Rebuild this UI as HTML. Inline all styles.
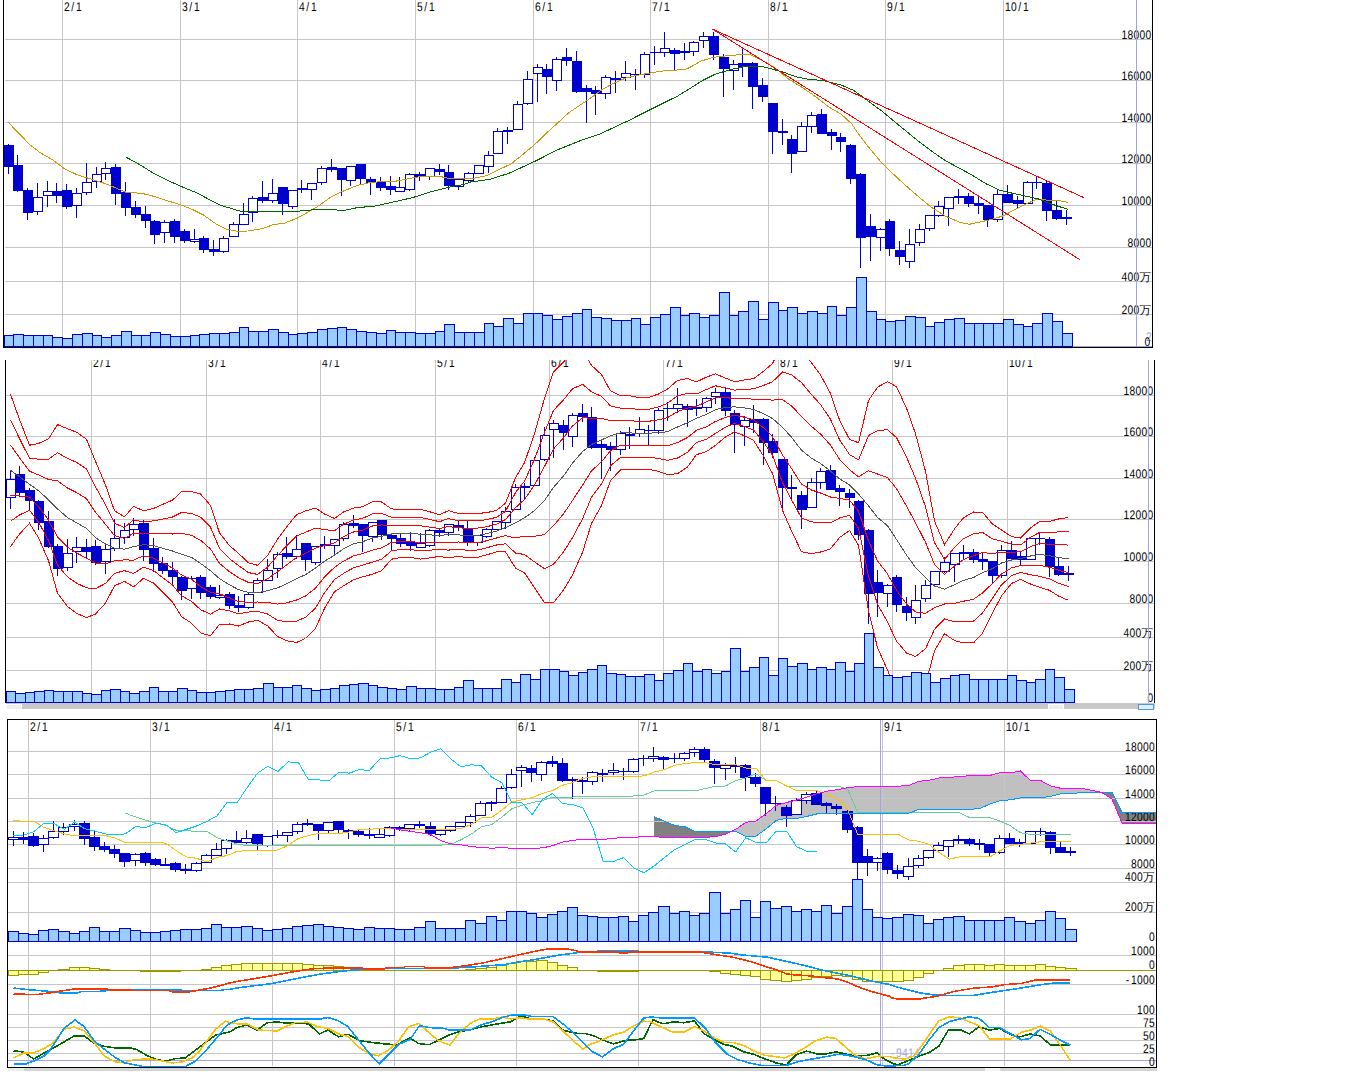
<!DOCTYPE html>
<html><head><meta charset="utf-8"><style>html,body{margin:0;padding:0;background:#fff}svg{display:block}</style></head><body><svg width="1366" height="1090" viewBox="0 0 1366 1090" shape-rendering="crispEdges" font-family="'Liberation Sans', sans-serif" fill="#000" text-rendering="geometricPrecision">
<defs><clipPath id="clipR1"><rect x="0" y="0" width="1152" height="348"/></clipPath><clipPath id="clip2"><rect x="0" y="360" width="1156" height="350"/></clipPath><clipPath id="clip3"><rect x="8" y="720" width="1148" height="346"/></clipPath><clipPath id="clip3b"><rect x="8" y="720" width="1148" height="348"/></clipPath><clipPath id="clip2b"><rect x="6" y="360" width="1148" height="343"/></clipPath></defs>
<rect x="0" y="0" width="1366" height="1090" fill="#fff"/>
<line x1="62.5" y1="0.0" x2="62.5" y2="346.0" stroke="#c6c6c6" stroke-width="1" />
<text transform="translate(64.0,11.0) scale(0.82,1)" x="0.00 8.90 14.63" y="0" font-size="12.5" >2/1</text>
<line x1="180.5" y1="0.0" x2="180.5" y2="346.0" stroke="#c6c6c6" stroke-width="1" />
<text transform="translate(182.0,11.0) scale(0.82,1)" x="0.00 8.90 14.63" y="0" font-size="12.5" >3/1</text>
<line x1="297.5" y1="0.0" x2="297.5" y2="346.0" stroke="#c6c6c6" stroke-width="1" />
<text transform="translate(299.0,11.0) scale(0.82,1)" x="0.00 8.90 14.63" y="0" font-size="12.5" >4/1</text>
<line x1="415.5" y1="0.0" x2="415.5" y2="346.0" stroke="#c6c6c6" stroke-width="1" />
<text transform="translate(417.0,11.0) scale(0.82,1)" x="0.00 8.90 14.63" y="0" font-size="12.5" >5/1</text>
<line x1="533.5" y1="0.0" x2="533.5" y2="346.0" stroke="#c6c6c6" stroke-width="1" />
<text transform="translate(535.0,11.0) scale(0.82,1)" x="0.00 8.90 14.63" y="0" font-size="12.5" >6/1</text>
<line x1="650.5" y1="0.0" x2="650.5" y2="346.0" stroke="#c6c6c6" stroke-width="1" />
<text transform="translate(652.0,11.0) scale(0.82,1)" x="0.00 8.90 14.63" y="0" font-size="12.5" >7/1</text>
<line x1="768.5" y1="0.0" x2="768.5" y2="346.0" stroke="#c6c6c6" stroke-width="1" />
<text transform="translate(770.0,11.0) scale(0.82,1)" x="0.00 8.90 14.63" y="0" font-size="12.5" >8/1</text>
<line x1="885.5" y1="0.0" x2="885.5" y2="346.0" stroke="#c6c6c6" stroke-width="1" />
<text transform="translate(887.0,11.0) scale(0.82,1)" x="0.00 8.90 14.63" y="0" font-size="12.5" >9/1</text>
<line x1="1003.5" y1="0.0" x2="1003.5" y2="346.0" stroke="#c6c6c6" stroke-width="1" />
<text transform="translate(1005.0,11.0) scale(0.82,1)" x="0.00 7.32 16.22 21.95" y="0" font-size="12.5" >10/1</text>
<line x1="5.0" y1="39.5" x2="1152.0" y2="39.5" stroke="#c6c6c6" stroke-width="1" />
<line x1="5.0" y1="80.5" x2="1152.0" y2="80.5" stroke="#c6c6c6" stroke-width="1" />
<line x1="5.0" y1="122.5" x2="1152.0" y2="122.5" stroke="#c6c6c6" stroke-width="1" />
<line x1="5.0" y1="163.5" x2="1152.0" y2="163.5" stroke="#c6c6c6" stroke-width="1" />
<line x1="5.0" y1="205.5" x2="1152.0" y2="205.5" stroke="#c6c6c6" stroke-width="1" />
<line x1="5.0" y1="247.5" x2="1152.0" y2="247.5" stroke="#c6c6c6" stroke-width="1" />
<line x1="5.0" y1="281.5" x2="1152.0" y2="281.5" stroke="#c6c6c6" stroke-width="1" />
<line x1="5.0" y1="314.5" x2="1152.0" y2="314.5" stroke="#c6c6c6" stroke-width="1" />
<g clip-path="url(#clipR1)">
<text transform="translate(1121.5,39.0) scale(0.82,1)" x="0.00 7.32 14.63 21.95 29.27" y="0" font-size="12.5" >18000</text>
<text transform="translate(1121.5,80.0) scale(0.82,1)" x="0.00 7.32 14.63 21.95 29.27" y="0" font-size="12.5" >16000</text>
<text transform="translate(1121.5,122.0) scale(0.82,1)" x="0.00 7.32 14.63 21.95 29.27" y="0" font-size="12.5" >14000</text>
<text transform="translate(1121.5,163.0) scale(0.82,1)" x="0.00 7.32 14.63 21.95 29.27" y="0" font-size="12.5" >12000</text>
<text transform="translate(1121.5,205.0) scale(0.82,1)" x="0.00 7.32 14.63 21.95 29.27" y="0" font-size="12.5" >10000</text>
<text transform="translate(1127.5,247.0) scale(0.82,1)" x="0.00 7.32 14.63 21.95" y="0" font-size="12.5" >8000</text>
<text transform="translate(1121.5,281.0) scale(0.82,1)" x="0.00 7.32 14.63" y="0" font-size="12.5" >400</text>
<text x="1139.5" y="281.0" font-size="11.5" >万</text>
<text transform="translate(1121.5,314.0) scale(0.82,1)" x="0.00 7.32 14.63" y="0" font-size="12.5" >200</text>
<text x="1139.5" y="314.0" font-size="11.5" >万</text>
<text transform="translate(1146.0,341.0) scale(0.82,1)" x="0.00" y="0" font-size="12.5" fill="#a3a3e3">2</text>
<text transform="translate(1144.5,345.5) scale(0.82,1)" x="0.00" y="0" font-size="12.5" >0</text>
</g>
<line x1="1136.5" y1="0.0" x2="1136.5" y2="346.0" stroke="#a3a3e3" stroke-width="1" />
<rect x="4.5" y="335.5" width="9.0" height="11.0" fill="#99ccff" stroke="#0000cc" />
<rect x="13.5" y="334.5" width="10.0" height="12.0" fill="#99ccff" stroke="#0000cc" />
<rect x="23.5" y="335.5" width="10.0" height="11.0" fill="#99ccff" stroke="#0000cc" />
<rect x="33.5" y="335.5" width="10.0" height="11.0" fill="#99ccff" stroke="#0000cc" />
<rect x="43.5" y="335.5" width="9.0" height="11.0" fill="#99ccff" stroke="#0000cc" />
<rect x="52.5" y="337.5" width="10.0" height="9.0" fill="#99ccff" stroke="#0000cc" />
<rect x="62.5" y="338.5" width="10.0" height="8.0" fill="#99ccff" stroke="#0000cc" />
<rect x="72.5" y="334.5" width="10.0" height="12.0" fill="#99ccff" stroke="#0000cc" />
<rect x="82.5" y="333.5" width="10.0" height="13.0" fill="#99ccff" stroke="#0000cc" />
<rect x="92.5" y="335.5" width="9.0" height="11.0" fill="#99ccff" stroke="#0000cc" />
<rect x="101.5" y="337.5" width="10.0" height="9.0" fill="#99ccff" stroke="#0000cc" />
<rect x="111.5" y="335.5" width="10.0" height="11.0" fill="#99ccff" stroke="#0000cc" />
<rect x="121.5" y="331.5" width="10.0" height="15.0" fill="#99ccff" stroke="#0000cc" />
<rect x="131.5" y="335.5" width="10.0" height="11.0" fill="#99ccff" stroke="#0000cc" />
<rect x="141.5" y="335.5" width="9.0" height="11.0" fill="#99ccff" stroke="#0000cc" />
<rect x="150.5" y="332.5" width="10.0" height="14.0" fill="#99ccff" stroke="#0000cc" />
<rect x="160.5" y="334.5" width="10.0" height="12.0" fill="#99ccff" stroke="#0000cc" />
<rect x="170.5" y="336.5" width="10.0" height="10.0" fill="#99ccff" stroke="#0000cc" />
<rect x="180.5" y="336.5" width="10.0" height="10.0" fill="#99ccff" stroke="#0000cc" />
<rect x="190.5" y="335.5" width="9.0" height="11.0" fill="#99ccff" stroke="#0000cc" />
<rect x="199.5" y="334.5" width="10.0" height="12.0" fill="#99ccff" stroke="#0000cc" />
<rect x="209.5" y="333.5" width="10.0" height="13.0" fill="#99ccff" stroke="#0000cc" />
<rect x="219.5" y="333.5" width="10.0" height="13.0" fill="#99ccff" stroke="#0000cc" />
<rect x="229.5" y="332.5" width="10.0" height="14.0" fill="#99ccff" stroke="#0000cc" />
<rect x="239.5" y="327.5" width="9.0" height="19.0" fill="#99ccff" stroke="#0000cc" />
<rect x="248.5" y="331.5" width="10.0" height="15.0" fill="#99ccff" stroke="#0000cc" />
<rect x="258.5" y="331.5" width="10.0" height="15.0" fill="#99ccff" stroke="#0000cc" />
<rect x="268.5" y="329.5" width="10.0" height="17.0" fill="#99ccff" stroke="#0000cc" />
<rect x="278.5" y="332.5" width="10.0" height="14.0" fill="#99ccff" stroke="#0000cc" />
<rect x="288.5" y="334.5" width="9.0" height="12.0" fill="#99ccff" stroke="#0000cc" />
<rect x="297.5" y="333.5" width="10.0" height="13.0" fill="#99ccff" stroke="#0000cc" />
<rect x="307.5" y="332.5" width="10.0" height="14.0" fill="#99ccff" stroke="#0000cc" />
<rect x="317.5" y="329.5" width="10.0" height="17.0" fill="#99ccff" stroke="#0000cc" />
<rect x="327.5" y="328.5" width="10.0" height="18.0" fill="#99ccff" stroke="#0000cc" />
<rect x="337.5" y="327.5" width="9.0" height="19.0" fill="#99ccff" stroke="#0000cc" />
<rect x="346.5" y="329.5" width="10.0" height="17.0" fill="#99ccff" stroke="#0000cc" />
<rect x="356.5" y="331.5" width="10.0" height="15.0" fill="#99ccff" stroke="#0000cc" />
<rect x="366.5" y="332.5" width="10.0" height="14.0" fill="#99ccff" stroke="#0000cc" />
<rect x="376.5" y="333.5" width="10.0" height="13.0" fill="#99ccff" stroke="#0000cc" />
<rect x="386.5" y="330.5" width="9.0" height="16.0" fill="#99ccff" stroke="#0000cc" />
<rect x="395.5" y="332.5" width="10.0" height="14.0" fill="#99ccff" stroke="#0000cc" />
<rect x="405.5" y="332.5" width="10.0" height="14.0" fill="#99ccff" stroke="#0000cc" />
<rect x="415.5" y="333.5" width="10.0" height="13.0" fill="#99ccff" stroke="#0000cc" />
<rect x="425.5" y="333.5" width="10.0" height="13.0" fill="#99ccff" stroke="#0000cc" />
<rect x="435.5" y="331.5" width="9.0" height="15.0" fill="#99ccff" stroke="#0000cc" />
<rect x="444.5" y="324.5" width="10.0" height="22.0" fill="#99ccff" stroke="#0000cc" />
<rect x="454.5" y="332.5" width="10.0" height="14.0" fill="#99ccff" stroke="#0000cc" />
<rect x="464.5" y="332.5" width="10.0" height="14.0" fill="#99ccff" stroke="#0000cc" />
<rect x="474.5" y="332.5" width="10.0" height="14.0" fill="#99ccff" stroke="#0000cc" />
<rect x="484.5" y="323.5" width="9.0" height="23.0" fill="#99ccff" stroke="#0000cc" />
<rect x="493.5" y="326.5" width="10.0" height="20.0" fill="#99ccff" stroke="#0000cc" />
<rect x="503.5" y="318.5" width="10.0" height="28.0" fill="#99ccff" stroke="#0000cc" />
<rect x="513.5" y="323.5" width="10.0" height="23.0" fill="#99ccff" stroke="#0000cc" />
<rect x="523.5" y="313.5" width="10.0" height="33.0" fill="#99ccff" stroke="#0000cc" />
<rect x="533.5" y="313.5" width="9.0" height="33.0" fill="#99ccff" stroke="#0000cc" />
<rect x="542.5" y="315.5" width="10.0" height="31.0" fill="#99ccff" stroke="#0000cc" />
<rect x="552.5" y="319.5" width="10.0" height="27.0" fill="#99ccff" stroke="#0000cc" />
<rect x="562.5" y="316.5" width="10.0" height="30.0" fill="#99ccff" stroke="#0000cc" />
<rect x="572.5" y="313.5" width="10.0" height="33.0" fill="#99ccff" stroke="#0000cc" />
<rect x="582.5" y="309.5" width="9.0" height="37.0" fill="#99ccff" stroke="#0000cc" />
<rect x="591.5" y="317.5" width="10.0" height="29.0" fill="#99ccff" stroke="#0000cc" />
<rect x="601.5" y="318.5" width="10.0" height="28.0" fill="#99ccff" stroke="#0000cc" />
<rect x="611.5" y="320.5" width="10.0" height="26.0" fill="#99ccff" stroke="#0000cc" />
<rect x="621.5" y="320.5" width="10.0" height="26.0" fill="#99ccff" stroke="#0000cc" />
<rect x="631.5" y="318.5" width="9.0" height="28.0" fill="#99ccff" stroke="#0000cc" />
<rect x="640.5" y="324.5" width="10.0" height="22.0" fill="#99ccff" stroke="#0000cc" />
<rect x="650.5" y="317.5" width="10.0" height="29.0" fill="#99ccff" stroke="#0000cc" />
<rect x="660.5" y="314.5" width="10.0" height="32.0" fill="#99ccff" stroke="#0000cc" />
<rect x="670.5" y="307.5" width="10.0" height="39.0" fill="#99ccff" stroke="#0000cc" />
<rect x="680.5" y="315.5" width="9.0" height="31.0" fill="#99ccff" stroke="#0000cc" />
<rect x="689.5" y="313.5" width="10.0" height="33.0" fill="#99ccff" stroke="#0000cc" />
<rect x="699.5" y="317.5" width="10.0" height="29.0" fill="#99ccff" stroke="#0000cc" />
<rect x="709.5" y="315.5" width="10.0" height="31.0" fill="#99ccff" stroke="#0000cc" />
<rect x="719.5" y="292.5" width="10.0" height="54.0" fill="#99ccff" stroke="#0000cc" />
<rect x="729.5" y="315.5" width="9.0" height="31.0" fill="#99ccff" stroke="#0000cc" />
<rect x="738.5" y="311.5" width="10.0" height="35.0" fill="#99ccff" stroke="#0000cc" />
<rect x="748.5" y="301.5" width="10.0" height="45.0" fill="#99ccff" stroke="#0000cc" />
<rect x="758.5" y="319.5" width="10.0" height="27.0" fill="#99ccff" stroke="#0000cc" />
<rect x="768.5" y="302.5" width="10.0" height="44.0" fill="#99ccff" stroke="#0000cc" />
<rect x="778.5" y="310.5" width="9.0" height="36.0" fill="#99ccff" stroke="#0000cc" />
<rect x="787.5" y="307.5" width="10.0" height="39.0" fill="#99ccff" stroke="#0000cc" />
<rect x="797.5" y="313.5" width="10.0" height="33.0" fill="#99ccff" stroke="#0000cc" />
<rect x="807.5" y="311.5" width="10.0" height="35.0" fill="#99ccff" stroke="#0000cc" />
<rect x="817.5" y="313.5" width="10.0" height="33.0" fill="#99ccff" stroke="#0000cc" />
<rect x="827.5" y="306.5" width="9.0" height="40.0" fill="#99ccff" stroke="#0000cc" />
<rect x="836.5" y="315.5" width="10.0" height="31.0" fill="#99ccff" stroke="#0000cc" />
<rect x="846.5" y="307.5" width="10.0" height="39.0" fill="#99ccff" stroke="#0000cc" />
<rect x="856.5" y="277.5" width="10.0" height="69.0" fill="#99ccff" stroke="#0000cc" />
<rect x="866.5" y="311.5" width="10.0" height="35.0" fill="#99ccff" stroke="#0000cc" />
<rect x="876.5" y="319.5" width="9.0" height="27.0" fill="#99ccff" stroke="#0000cc" />
<rect x="885.5" y="321.5" width="10.0" height="25.0" fill="#99ccff" stroke="#0000cc" />
<rect x="895.5" y="320.5" width="10.0" height="26.0" fill="#99ccff" stroke="#0000cc" />
<rect x="905.5" y="316.5" width="10.0" height="30.0" fill="#99ccff" stroke="#0000cc" />
<rect x="915.5" y="317.5" width="10.0" height="29.0" fill="#99ccff" stroke="#0000cc" />
<rect x="925.5" y="326.5" width="9.0" height="20.0" fill="#99ccff" stroke="#0000cc" />
<rect x="934.5" y="322.5" width="10.0" height="24.0" fill="#99ccff" stroke="#0000cc" />
<rect x="944.5" y="319.5" width="10.0" height="27.0" fill="#99ccff" stroke="#0000cc" />
<rect x="954.5" y="318.5" width="10.0" height="28.0" fill="#99ccff" stroke="#0000cc" />
<rect x="964.5" y="323.5" width="10.0" height="23.0" fill="#99ccff" stroke="#0000cc" />
<rect x="974.5" y="323.5" width="9.0" height="23.0" fill="#99ccff" stroke="#0000cc" />
<rect x="983.5" y="323.5" width="10.0" height="23.0" fill="#99ccff" stroke="#0000cc" />
<rect x="993.5" y="323.5" width="10.0" height="23.0" fill="#99ccff" stroke="#0000cc" />
<rect x="1003.5" y="319.5" width="10.0" height="27.0" fill="#99ccff" stroke="#0000cc" />
<rect x="1013.5" y="324.5" width="10.0" height="22.0" fill="#99ccff" stroke="#0000cc" />
<rect x="1023.5" y="326.5" width="9.0" height="20.0" fill="#99ccff" stroke="#0000cc" />
<rect x="1032.5" y="323.5" width="10.0" height="23.0" fill="#99ccff" stroke="#0000cc" />
<rect x="1042.5" y="313.5" width="10.0" height="33.0" fill="#99ccff" stroke="#0000cc" />
<rect x="1052.5" y="321.5" width="10.0" height="25.0" fill="#99ccff" stroke="#0000cc" />
<rect x="1062.5" y="333.5" width="10.0" height="13.0" fill="#99ccff" stroke="#0000cc" />
<rect x="8.0" y="144.0" width="1.0" height="30.0" fill="#0000cc" />
<rect x="4.0" y="145.0" width="10.0" height="22.0" fill="#0000cc" />
<rect x="17.0" y="155.0" width="1.0" height="37.0" fill="#0000cc" />
<rect x="13.0" y="165.0" width="10.0" height="26.0" fill="#0000cc" />
<rect x="27.0" y="188.0" width="1.0" height="32.0" fill="#0000cc" />
<rect x="23.0" y="190.0" width="10.0" height="23.0" fill="#0000cc" />
<rect x="37.0" y="183.0" width="1.0" height="32.0" fill="#0000cc" />
<rect x="33.5" y="197.5" width="9.0" height="14.0" fill="#fff" stroke="#0000cc" />
<rect x="47.0" y="181.0" width="1.0" height="26.0" fill="#0000cc" />
<rect x="43.5" y="191.5" width="9.0" height="4.0" fill="#fff" stroke="#0000cc" />
<rect x="56.0" y="183.0" width="1.0" height="20.0" fill="#0000cc" />
<rect x="52.0" y="191.0" width="10.0" height="5.0" fill="#0000cc" />
<rect x="66.0" y="184.0" width="1.0" height="25.0" fill="#0000cc" />
<rect x="62.0" y="190.0" width="10.0" height="17.0" fill="#0000cc" />
<rect x="76.0" y="188.0" width="1.0" height="30.0" fill="#0000cc" />
<rect x="72.5" y="193.5" width="9.0" height="12.0" fill="#fff" stroke="#0000cc" />
<rect x="86.0" y="163.0" width="1.0" height="32.0" fill="#0000cc" />
<rect x="82.5" y="182.5" width="9.0" height="10.0" fill="#fff" stroke="#0000cc" />
<rect x="96.0" y="167.0" width="1.0" height="21.0" fill="#0000cc" />
<rect x="92.5" y="174.5" width="9.0" height="7.0" fill="#fff" stroke="#0000cc" />
<rect x="105.0" y="162.0" width="1.0" height="18.0" fill="#0000cc" />
<rect x="101.5" y="168.5" width="9.0" height="5.0" fill="#fff" stroke="#0000cc" />
<rect x="115.0" y="164.0" width="1.0" height="41.0" fill="#0000cc" />
<rect x="111.0" y="167.0" width="10.0" height="27.0" fill="#0000cc" />
<rect x="125.0" y="182.0" width="1.0" height="34.0" fill="#0000cc" />
<rect x="121.0" y="192.0" width="10.0" height="16.0" fill="#0000cc" />
<rect x="135.0" y="201.0" width="1.0" height="17.0" fill="#0000cc" />
<rect x="131.0" y="207.0" width="10.0" height="8.0" fill="#0000cc" />
<rect x="145.0" y="206.0" width="1.0" height="22.0" fill="#0000cc" />
<rect x="141.0" y="214.0" width="10.0" height="7.0" fill="#0000cc" />
<rect x="154.0" y="220.0" width="1.0" height="24.0" fill="#0000cc" />
<rect x="150.0" y="221.0" width="10.0" height="14.0" fill="#0000cc" />
<rect x="164.0" y="220.0" width="1.0" height="23.0" fill="#0000cc" />
<rect x="160.5" y="222.5" width="9.0" height="10.0" fill="#fff" stroke="#0000cc" />
<rect x="174.0" y="219.0" width="1.0" height="24.0" fill="#0000cc" />
<rect x="170.0" y="221.0" width="10.0" height="16.0" fill="#0000cc" />
<rect x="184.0" y="229.0" width="1.0" height="14.0" fill="#0000cc" />
<rect x="180.0" y="231.0" width="10.0" height="10.0" fill="#0000cc" />
<rect x="194.0" y="229.0" width="1.0" height="14.0" fill="#0000cc" />
<rect x="190.5" y="239.5" width="9.0" height="2.0" fill="#fff" stroke="#0000cc" />
<rect x="203.0" y="236.0" width="1.0" height="17.0" fill="#0000cc" />
<rect x="199.0" y="238.0" width="10.0" height="12.0" fill="#0000cc" />
<rect x="213.0" y="240.0" width="1.0" height="16.0" fill="#0000cc" />
<rect x="209.0" y="249.0" width="10.0" height="3.0" fill="#0000cc" />
<rect x="223.0" y="236.0" width="1.0" height="17.0" fill="#0000cc" />
<rect x="219.5" y="238.5" width="9.0" height="13.0" fill="#fff" stroke="#0000cc" />
<rect x="233.0" y="222.0" width="1.0" height="15.0" fill="#0000cc" />
<rect x="229.5" y="224.5" width="9.0" height="12.0" fill="#fff" stroke="#0000cc" />
<rect x="243.0" y="203.0" width="1.0" height="22.0" fill="#0000cc" />
<rect x="239.5" y="214.5" width="9.0" height="10.0" fill="#fff" stroke="#0000cc" />
<rect x="252.0" y="196.0" width="1.0" height="26.0" fill="#0000cc" />
<rect x="248.5" y="198.5" width="9.0" height="14.0" fill="#fff" stroke="#0000cc" />
<rect x="262.0" y="181.0" width="1.0" height="22.0" fill="#0000cc" />
<rect x="258.0" y="197.0" width="10.0" height="4.0" fill="#0000cc" />
<rect x="272.0" y="179.0" width="1.0" height="24.0" fill="#0000cc" />
<rect x="268.5" y="193.5" width="9.0" height="7.0" fill="#fff" stroke="#0000cc" />
<rect x="282.0" y="187.0" width="1.0" height="28.0" fill="#0000cc" />
<rect x="278.0" y="187.0" width="10.0" height="17.0" fill="#0000cc" />
<rect x="292.0" y="190.0" width="1.0" height="19.0" fill="#0000cc" />
<rect x="288.5" y="190.5" width="9.0" height="16.0" fill="#fff" stroke="#0000cc" />
<rect x="301.0" y="180.0" width="1.0" height="13.0" fill="#0000cc" />
<rect x="297.0" y="188.0" width="10.0" height="2.0" fill="#0000cc" />
<rect x="311.0" y="183.0" width="1.0" height="17.0" fill="#0000cc" />
<rect x="307.5" y="183.5" width="9.0" height="6.0" fill="#fff" stroke="#0000cc" />
<rect x="321.0" y="166.0" width="1.0" height="19.0" fill="#0000cc" />
<rect x="317.5" y="168.5" width="9.0" height="14.0" fill="#fff" stroke="#0000cc" />
<rect x="331.0" y="159.0" width="1.0" height="13.0" fill="#0000cc" />
<rect x="327.0" y="167.0" width="10.0" height="3.0" fill="#0000cc" />
<rect x="341.0" y="168.0" width="1.0" height="28.0" fill="#0000cc" />
<rect x="337.0" y="168.0" width="10.0" height="12.0" fill="#0000cc" />
<rect x="350.0" y="166.0" width="1.0" height="20.0" fill="#0000cc" />
<rect x="346.5" y="166.5" width="9.0" height="14.0" fill="#fff" stroke="#0000cc" />
<rect x="360.0" y="164.0" width="1.0" height="20.0" fill="#0000cc" />
<rect x="356.0" y="164.0" width="10.0" height="15.0" fill="#0000cc" />
<rect x="370.0" y="177.0" width="1.0" height="18.0" fill="#0000cc" />
<rect x="366.0" y="179.0" width="10.0" height="4.0" fill="#0000cc" />
<rect x="380.0" y="177.0" width="1.0" height="14.0" fill="#0000cc" />
<rect x="376.0" y="182.0" width="10.0" height="6.0" fill="#0000cc" />
<rect x="390.0" y="176.0" width="1.0" height="19.0" fill="#0000cc" />
<rect x="386.0" y="186.0" width="10.0" height="4.0" fill="#0000cc" />
<rect x="399.0" y="177.0" width="1.0" height="15.0" fill="#0000cc" />
<rect x="395.5" y="187.5" width="9.0" height="4.0" fill="#fff" stroke="#0000cc" />
<rect x="409.0" y="173.0" width="1.0" height="18.0" fill="#0000cc" />
<rect x="405.5" y="174.5" width="9.0" height="15.0" fill="#fff" stroke="#0000cc" />
<rect x="419.0" y="172.0" width="1.0" height="9.0" fill="#0000cc" />
<rect x="415.0" y="174.0" width="10.0" height="3.0" fill="#0000cc" />
<rect x="429.0" y="168.0" width="1.0" height="12.0" fill="#0000cc" />
<rect x="425.5" y="168.5" width="9.0" height="8.0" fill="#fff" stroke="#0000cc" />
<rect x="439.0" y="164.0" width="1.0" height="11.0" fill="#0000cc" />
<rect x="435.0" y="169.0" width="10.0" height="3.0" fill="#0000cc" />
<rect x="448.0" y="165.0" width="1.0" height="25.0" fill="#0000cc" />
<rect x="444.0" y="172.0" width="10.0" height="14.0" fill="#0000cc" />
<rect x="458.0" y="179.0" width="1.0" height="11.0" fill="#0000cc" />
<rect x="454.5" y="179.5" width="9.0" height="7.0" fill="#fff" stroke="#0000cc" />
<rect x="468.0" y="172.0" width="1.0" height="10.0" fill="#0000cc" />
<rect x="464.5" y="173.5" width="9.0" height="7.0" fill="#fff" stroke="#0000cc" />
<rect x="478.0" y="165.0" width="1.0" height="9.0" fill="#0000cc" />
<rect x="474.5" y="165.5" width="9.0" height="8.0" fill="#fff" stroke="#0000cc" />
<rect x="488.0" y="151.0" width="1.0" height="22.0" fill="#0000cc" />
<rect x="484.5" y="155.5" width="9.0" height="11.0" fill="#fff" stroke="#0000cc" />
<rect x="497.0" y="128.0" width="1.0" height="26.0" fill="#0000cc" />
<rect x="493.5" y="131.5" width="9.0" height="22.0" fill="#fff" stroke="#0000cc" />
<rect x="507.0" y="127.0" width="1.0" height="17.0" fill="#0000cc" />
<rect x="503.0" y="130.0" width="10.0" height="2.0" fill="#0000cc" />
<rect x="517.0" y="101.0" width="1.0" height="29.0" fill="#0000cc" />
<rect x="513.5" y="104.5" width="9.0" height="25.0" fill="#fff" stroke="#0000cc" />
<rect x="527.0" y="71.0" width="1.0" height="34.0" fill="#0000cc" />
<rect x="523.5" y="79.5" width="9.0" height="24.0" fill="#fff" stroke="#0000cc" />
<rect x="537.0" y="64.0" width="1.0" height="38.0" fill="#0000cc" />
<rect x="533.5" y="67.5" width="9.0" height="6.0" fill="#fff" stroke="#0000cc" />
<rect x="546.0" y="64.0" width="1.0" height="30.0" fill="#0000cc" />
<rect x="542.0" y="69.0" width="10.0" height="8.0" fill="#0000cc" />
<rect x="556.0" y="57.0" width="1.0" height="34.0" fill="#0000cc" />
<rect x="552.5" y="59.5" width="9.0" height="21.0" fill="#fff" stroke="#0000cc" />
<rect x="566.0" y="48.0" width="1.0" height="18.0" fill="#0000cc" />
<rect x="562.0" y="57.0" width="10.0" height="4.0" fill="#0000cc" />
<rect x="576.0" y="51.0" width="1.0" height="42.0" fill="#0000cc" />
<rect x="572.0" y="61.0" width="10.0" height="31.0" fill="#0000cc" />
<rect x="586.0" y="85.0" width="1.0" height="38.0" fill="#0000cc" />
<rect x="582.0" y="88.0" width="10.0" height="4.0" fill="#0000cc" />
<rect x="595.0" y="86.0" width="1.0" height="29.0" fill="#0000cc" />
<rect x="591.0" y="90.0" width="10.0" height="4.0" fill="#0000cc" />
<rect x="605.0" y="75.0" width="1.0" height="24.0" fill="#0000cc" />
<rect x="601.5" y="77.5" width="9.0" height="16.0" fill="#fff" stroke="#0000cc" />
<rect x="615.0" y="71.0" width="1.0" height="22.0" fill="#0000cc" />
<rect x="611.0" y="78.0" width="10.0" height="2.0" fill="#0000cc" />
<rect x="625.0" y="61.0" width="1.0" height="20.0" fill="#0000cc" />
<rect x="621.5" y="73.5" width="9.0" height="4.0" fill="#fff" stroke="#0000cc" />
<rect x="635.0" y="69.0" width="1.0" height="21.0" fill="#0000cc" />
<rect x="631.0" y="74.0" width="10.0" height="1.0" fill="#0000cc" />
<rect x="644.0" y="52.0" width="1.0" height="26.0" fill="#0000cc" />
<rect x="640.5" y="54.5" width="9.0" height="20.0" fill="#fff" stroke="#0000cc" />
<rect x="654.0" y="46.0" width="1.0" height="19.0" fill="#0000cc" />
<rect x="650.0" y="52.0" width="10.0" height="1.0" fill="#0000cc" />
<rect x="664.0" y="32.0" width="1.0" height="25.0" fill="#0000cc" />
<rect x="660.5" y="48.5" width="9.0" height="4.0" fill="#fff" stroke="#0000cc" />
<rect x="674.0" y="48.0" width="1.0" height="23.0" fill="#0000cc" />
<rect x="670.0" y="50.0" width="10.0" height="4.0" fill="#0000cc" />
<rect x="684.0" y="43.0" width="1.0" height="17.0" fill="#0000cc" />
<rect x="680.0" y="51.0" width="10.0" height="2.0" fill="#0000cc" />
<rect x="693.0" y="41.0" width="1.0" height="15.0" fill="#0000cc" />
<rect x="689.5" y="42.5" width="9.0" height="9.0" fill="#fff" stroke="#0000cc" />
<rect x="703.0" y="32.0" width="1.0" height="16.0" fill="#0000cc" />
<rect x="699.5" y="36.5" width="9.0" height="4.0" fill="#fff" stroke="#0000cc" />
<rect x="713.0" y="32.0" width="1.0" height="28.0" fill="#0000cc" />
<rect x="709.0" y="36.0" width="10.0" height="19.0" fill="#0000cc" />
<rect x="723.0" y="54.0" width="1.0" height="43.0" fill="#0000cc" />
<rect x="719.0" y="57.0" width="10.0" height="12.0" fill="#0000cc" />
<rect x="733.0" y="60.0" width="1.0" height="30.0" fill="#0000cc" />
<rect x="729.5" y="64.5" width="9.0" height="6.0" fill="#fff" stroke="#0000cc" />
<rect x="742.0" y="49.0" width="1.0" height="28.0" fill="#0000cc" />
<rect x="738.0" y="63.0" width="10.0" height="4.0" fill="#0000cc" />
<rect x="752.0" y="62.0" width="1.0" height="47.0" fill="#0000cc" />
<rect x="748.0" y="63.0" width="10.0" height="24.0" fill="#0000cc" />
<rect x="762.0" y="78.0" width="1.0" height="24.0" fill="#0000cc" />
<rect x="758.0" y="85.0" width="10.0" height="12.0" fill="#0000cc" />
<rect x="772.0" y="103.0" width="1.0" height="51.0" fill="#0000cc" />
<rect x="768.0" y="103.0" width="10.0" height="29.0" fill="#0000cc" />
<rect x="782.0" y="119.0" width="1.0" height="26.0" fill="#0000cc" />
<rect x="778.0" y="131.0" width="10.0" height="2.0" fill="#0000cc" />
<rect x="791.0" y="135.0" width="1.0" height="38.0" fill="#0000cc" />
<rect x="787.0" y="139.0" width="10.0" height="15.0" fill="#0000cc" />
<rect x="801.0" y="122.0" width="1.0" height="30.0" fill="#0000cc" />
<rect x="797.5" y="126.5" width="9.0" height="25.0" fill="#fff" stroke="#0000cc" />
<rect x="811.0" y="112.0" width="1.0" height="21.0" fill="#0000cc" />
<rect x="807.5" y="115.5" width="9.0" height="11.0" fill="#fff" stroke="#0000cc" />
<rect x="821.0" y="109.0" width="1.0" height="25.0" fill="#0000cc" />
<rect x="817.0" y="114.0" width="10.0" height="20.0" fill="#0000cc" />
<rect x="831.0" y="129.0" width="1.0" height="21.0" fill="#0000cc" />
<rect x="827.0" y="132.0" width="10.0" height="4.0" fill="#0000cc" />
<rect x="840.0" y="133.0" width="1.0" height="19.0" fill="#0000cc" />
<rect x="836.0" y="137.0" width="10.0" height="5.0" fill="#0000cc" />
<rect x="850.0" y="144.0" width="1.0" height="40.0" fill="#0000cc" />
<rect x="846.0" y="145.0" width="10.0" height="34.0" fill="#0000cc" />
<rect x="860.0" y="173.0" width="1.0" height="95.0" fill="#0000cc" />
<rect x="856.0" y="174.0" width="10.0" height="64.0" fill="#0000cc" />
<rect x="870.0" y="214.0" width="1.0" height="47.0" fill="#0000cc" />
<rect x="866.0" y="226.0" width="10.0" height="11.0" fill="#0000cc" />
<rect x="880.0" y="228.0" width="1.0" height="23.0" fill="#0000cc" />
<rect x="876.5" y="229.5" width="9.0" height="8.0" fill="#fff" stroke="#0000cc" />
<rect x="889.0" y="219.0" width="1.0" height="37.0" fill="#0000cc" />
<rect x="885.0" y="221.0" width="10.0" height="28.0" fill="#0000cc" />
<rect x="899.0" y="241.0" width="1.0" height="24.0" fill="#0000cc" />
<rect x="895.0" y="250.0" width="10.0" height="7.0" fill="#0000cc" />
<rect x="909.0" y="229.0" width="1.0" height="39.0" fill="#0000cc" />
<rect x="905.5" y="244.5" width="9.0" height="17.0" fill="#fff" stroke="#0000cc" />
<rect x="919.0" y="224.0" width="1.0" height="22.0" fill="#0000cc" />
<rect x="915.5" y="229.5" width="9.0" height="13.0" fill="#fff" stroke="#0000cc" />
<rect x="929.0" y="215.0" width="1.0" height="16.0" fill="#0000cc" />
<rect x="925.5" y="215.5" width="9.0" height="13.0" fill="#fff" stroke="#0000cc" />
<rect x="938.0" y="201.0" width="1.0" height="16.0" fill="#0000cc" />
<rect x="934.5" y="206.5" width="9.0" height="9.0" fill="#fff" stroke="#0000cc" />
<rect x="948.0" y="197.0" width="1.0" height="29.0" fill="#0000cc" />
<rect x="944.5" y="197.5" width="9.0" height="11.0" fill="#fff" stroke="#0000cc" />
<rect x="958.0" y="189.0" width="1.0" height="15.0" fill="#0000cc" />
<rect x="954.0" y="196.0" width="10.0" height="2.0" fill="#0000cc" />
<rect x="968.0" y="193.0" width="1.0" height="14.0" fill="#0000cc" />
<rect x="964.0" y="196.0" width="10.0" height="8.0" fill="#0000cc" />
<rect x="978.0" y="196.0" width="1.0" height="18.0" fill="#0000cc" />
<rect x="974.0" y="203.0" width="10.0" height="3.0" fill="#0000cc" />
<rect x="987.0" y="205.0" width="1.0" height="22.0" fill="#0000cc" />
<rect x="983.0" y="205.0" width="10.0" height="15.0" fill="#0000cc" />
<rect x="997.0" y="189.0" width="1.0" height="33.0" fill="#0000cc" />
<rect x="993.5" y="194.5" width="9.0" height="25.0" fill="#fff" stroke="#0000cc" />
<rect x="1007.0" y="185.0" width="1.0" height="18.0" fill="#0000cc" />
<rect x="1003.0" y="194.0" width="10.0" height="9.0" fill="#0000cc" />
<rect x="1017.0" y="196.0" width="1.0" height="13.0" fill="#0000cc" />
<rect x="1013.0" y="200.0" width="10.0" height="4.0" fill="#0000cc" />
<rect x="1027.0" y="181.0" width="1.0" height="23.0" fill="#0000cc" />
<rect x="1023.5" y="182.5" width="9.0" height="21.0" fill="#fff" stroke="#0000cc" />
<rect x="1036.0" y="176.0" width="1.0" height="13.0" fill="#0000cc" />
<rect x="1032.0" y="182.0" width="10.0" height="1.0" fill="#0000cc" />
<rect x="1046.0" y="181.0" width="1.0" height="40.0" fill="#0000cc" />
<rect x="1042.0" y="183.0" width="10.0" height="28.0" fill="#0000cc" />
<rect x="1056.0" y="201.0" width="1.0" height="19.0" fill="#0000cc" />
<rect x="1052.0" y="210.0" width="10.0" height="9.0" fill="#0000cc" />
<rect x="1066.0" y="210.0" width="1.0" height="15.0" fill="#0000cc" />
<rect x="1062.0" y="217.0" width="10.0" height="2.0" fill="#0000cc" />
<polyline points="8.0,122.0 15.5,130.0 30.7,145.5 40.4,152.8 52.7,159.9 65.0,169.0 77.3,174.8 91.4,179.2 105.4,183.6 116.0,188.0 126.5,192.4 140.5,193.2 149.3,195.0 166.9,200.6 182.7,205.5 193.3,209.9 203.8,215.2 216.1,224.0 226.6,229.3 233.7,230.5 238.8,231.5 247.6,231.0 263.4,228.4 272.2,224.9 284.5,223.1 296.8,218.4 307.3,212.6 317.8,206.4 330.1,197.6 342.4,191.5 356.5,185.7 370.6,182.4 384.6,181.5 395.1,181.3 405.7,179.2 416.2,177.1 428.5,176.4 440.8,176.6 447.9,178.3 458.4,178.7 472.3,178.5 486.4,175.8 498.7,169.7 511.0,163.9 521.5,155.6 533.8,145.4 547.8,131.9 558.4,122.2 568.9,112.6 579.5,105.5 590.0,98.5 600.6,90.6 611.1,84.5 625.1,78.3 635.7,75.7 649.7,73.0 663.8,70.9 684.9,69.5 690.0,67.4 700.5,61.3 712.8,57.4 725.1,56.0 744.5,54.3 751.5,55.1 763.8,61.3 774.3,67.4 788.4,78.9 802.4,87.6 816.5,97.3 828.8,107.0 841.1,114.0 851.6,123.7 858.7,134.2 867.4,145.6 879.7,160.5 892.0,172.8 904.3,184.3 918.4,196.6 931.4,207.3 945.4,216.1 959.5,222.2 969.1,224.3 980.5,221.9 992.8,219.2 1003.4,215.7 1015.7,209.1 1026.2,203.8 1036.8,199.4 1050.8,200.3 1059.6,200.8 1067.9,202.4" fill="none" stroke="#cc9900" stroke-width="1" />
<polyline points="126.1,157.2 140.5,165.1 154.6,173.9 168.7,180.9 182.7,187.1 196.8,192.9 210.8,200.3 221.4,205.5 231.9,208.7 242.3,211.7 265.1,211.7 296.8,211.3 312.6,209.9 335.4,209.4 338.9,210.8 344.2,210.5 356.5,207.8 375.8,205.9 393.4,202.0 412.7,197.6 432.0,191.5 451.4,186.6 463.7,184.5 470.5,182.0 489.9,179.3 509.2,173.2 533.8,161.8 558.4,149.5 579.5,141.0 600.6,133.7 628.7,120.5 649.7,109.9 677.9,95.9 690.0,88.5 702.3,80.6 714.6,74.5 730.4,69.5 744.5,66.6 760.3,66.2 772.6,69.2 784.9,72.7 795.4,76.6 806.0,78.9 823.5,80.6 841.1,85.0 853.4,90.3 865.7,99.1 883.3,112.2 900.8,126.8 918.4,141.2 930.0,150.0 945.4,160.7 970.0,173.9 985.8,183.6 998.1,189.7 1008.7,192.4 1026.2,196.2 1038.5,199.0 1050.8,203.8 1067.9,209.4" fill="none" stroke="#006600" stroke-width="1" />
<polyline points="712.5,29.1 1083.6,197.5" fill="none" stroke="#ff0000" stroke-width="1" />
<polyline points="712.5,29.1 1079.9,259.7" fill="none" stroke="#ff0000" stroke-width="1" />
<rect x="3.0" y="0.0" width="1.0" height="348.0" fill="#000" />
<rect x="3.0" y="347.0" width="1150.0" height="1.0" fill="#000" />
<line x1="1073.0" y1="346.5" x2="1152.0" y2="346.5" stroke="#a3a3e3" stroke-width="1" />
<rect x="1152.0" y="0.0" width="1.0" height="348.0" fill="#000" />
<rect x="20.0" y="348.0" width="1053.0" height="1.0" fill="#e6e6e6" />
<g clip-path="url(#clip2)">
<line x1="91.5" y1="360.0" x2="91.5" y2="703.0" stroke="#c6c6c6" stroke-width="1" />
<text transform="translate(93.0,367.0) scale(0.82,1)" x="0.00 8.90 14.63" y="0" font-size="12.5" >2/1</text>
<line x1="206.5" y1="360.0" x2="206.5" y2="703.0" stroke="#c6c6c6" stroke-width="1" />
<text transform="translate(208.0,367.0) scale(0.82,1)" x="0.00 8.90 14.63" y="0" font-size="12.5" >3/1</text>
<line x1="320.5" y1="360.0" x2="320.5" y2="703.0" stroke="#c6c6c6" stroke-width="1" />
<text transform="translate(322.0,367.0) scale(0.82,1)" x="0.00 8.90 14.63" y="0" font-size="12.5" >4/1</text>
<line x1="435.5" y1="360.0" x2="435.5" y2="703.0" stroke="#c6c6c6" stroke-width="1" />
<text transform="translate(437.0,367.0) scale(0.82,1)" x="0.00 8.90 14.63" y="0" font-size="12.5" >5/1</text>
<line x1="549.5" y1="360.0" x2="549.5" y2="703.0" stroke="#c6c6c6" stroke-width="1" />
<text transform="translate(551.0,367.0) scale(0.82,1)" x="0.00 8.90 14.63" y="0" font-size="12.5" >6/1</text>
<line x1="663.5" y1="360.0" x2="663.5" y2="703.0" stroke="#c6c6c6" stroke-width="1" />
<text transform="translate(665.0,367.0) scale(0.82,1)" x="0.00 8.90 14.63" y="0" font-size="12.5" >7/1</text>
<line x1="778.5" y1="360.0" x2="778.5" y2="703.0" stroke="#c6c6c6" stroke-width="1" />
<text transform="translate(780.0,367.0) scale(0.82,1)" x="0.00 8.90 14.63" y="0" font-size="12.5" >8/1</text>
<line x1="892.5" y1="360.0" x2="892.5" y2="703.0" stroke="#c6c6c6" stroke-width="1" />
<text transform="translate(894.0,367.0) scale(0.82,1)" x="0.00 8.90 14.63" y="0" font-size="12.5" >9/1</text>
<line x1="1007.5" y1="360.0" x2="1007.5" y2="703.0" stroke="#c6c6c6" stroke-width="1" />
<text transform="translate(1009.0,367.0) scale(0.82,1)" x="0.00 7.32 16.22 21.95" y="0" font-size="12.5" >10/1</text>
<line x1="6.0" y1="395.5" x2="1154.0" y2="395.5" stroke="#c6c6c6" stroke-width="1" />
<line x1="6.0" y1="436.5" x2="1154.0" y2="436.5" stroke="#c6c6c6" stroke-width="1" />
<line x1="6.0" y1="478.5" x2="1154.0" y2="478.5" stroke="#c6c6c6" stroke-width="1" />
<line x1="6.0" y1="519.5" x2="1154.0" y2="519.5" stroke="#c6c6c6" stroke-width="1" />
<line x1="6.0" y1="561.5" x2="1154.0" y2="561.5" stroke="#c6c6c6" stroke-width="1" />
<line x1="6.0" y1="603.5" x2="1154.0" y2="603.5" stroke="#c6c6c6" stroke-width="1" />
<line x1="6.0" y1="637.5" x2="1154.0" y2="637.5" stroke="#c6c6c6" stroke-width="1" />
<line x1="6.0" y1="670.5" x2="1154.0" y2="670.5" stroke="#c6c6c6" stroke-width="1" />
<text transform="translate(1123.5,395.0) scale(0.82,1)" x="0.00 7.32 14.63 21.95 29.27" y="0" font-size="12.5" >18000</text>
<text transform="translate(1123.5,436.0) scale(0.82,1)" x="0.00 7.32 14.63 21.95 29.27" y="0" font-size="12.5" >16000</text>
<text transform="translate(1123.5,478.0) scale(0.82,1)" x="0.00 7.32 14.63 21.95 29.27" y="0" font-size="12.5" >14000</text>
<text transform="translate(1123.5,519.0) scale(0.82,1)" x="0.00 7.32 14.63 21.95 29.27" y="0" font-size="12.5" >12000</text>
<text transform="translate(1123.5,561.0) scale(0.82,1)" x="0.00 7.32 14.63 21.95 29.27" y="0" font-size="12.5" >10000</text>
<text transform="translate(1129.5,603.0) scale(0.82,1)" x="0.00 7.32 14.63 21.95" y="0" font-size="12.5" >8000</text>
<text transform="translate(1123.5,637.0) scale(0.82,1)" x="0.00 7.32 14.63" y="0" font-size="12.5" >400</text>
<text x="1141.5" y="637.0" font-size="11.5" >万</text>
<text transform="translate(1123.5,670.0) scale(0.82,1)" x="0.00 7.32 14.63" y="0" font-size="12.5" >200</text>
<text x="1141.5" y="670.0" font-size="11.5" >万</text>
<text transform="translate(1147.5,702.0) scale(0.82,1)" x="0.00" y="0" font-size="12.5" >0</text>
<line x1="1148.5" y1="360.0" x2="1148.5" y2="703.0" stroke="#a3a3e3" stroke-width="1" />
<rect x="10.0" y="471.0" width="1.0" height="38.0" fill="#0000cc" />
<rect x="6.5" y="479.5" width="9.0" height="18.0" fill="#fff" stroke="#0000cc" />
<rect x="19.0" y="466.0" width="1.0" height="31.0" fill="#0000cc" />
<rect x="15.0" y="474.0" width="10.0" height="19.0" fill="#0000cc" />
<rect x="29.0" y="488.0" width="1.0" height="22.0" fill="#0000cc" />
<rect x="25.0" y="490.0" width="10.0" height="11.0" fill="#0000cc" />
<rect x="38.0" y="500.0" width="1.0" height="30.0" fill="#0000cc" />
<rect x="34.0" y="501.0" width="10.0" height="22.0" fill="#0000cc" />
<rect x="48.0" y="511.0" width="1.0" height="37.0" fill="#0000cc" />
<rect x="44.0" y="521.0" width="10.0" height="26.0" fill="#0000cc" />
<rect x="57.0" y="544.0" width="1.0" height="32.0" fill="#0000cc" />
<rect x="53.0" y="546.0" width="10.0" height="23.0" fill="#0000cc" />
<rect x="67.0" y="539.0" width="1.0" height="32.0" fill="#0000cc" />
<rect x="63.5" y="553.5" width="9.0" height="14.0" fill="#fff" stroke="#0000cc" />
<rect x="76.0" y="537.0" width="1.0" height="26.0" fill="#0000cc" />
<rect x="72.5" y="547.5" width="9.0" height="4.0" fill="#fff" stroke="#0000cc" />
<rect x="86.0" y="539.0" width="1.0" height="20.0" fill="#0000cc" />
<rect x="82.0" y="547.0" width="10.0" height="5.0" fill="#0000cc" />
<rect x="95.0" y="540.0" width="1.0" height="25.0" fill="#0000cc" />
<rect x="91.0" y="546.0" width="10.0" height="17.0" fill="#0000cc" />
<rect x="105.0" y="544.0" width="1.0" height="30.0" fill="#0000cc" />
<rect x="101.5" y="549.5" width="9.0" height="12.0" fill="#fff" stroke="#0000cc" />
<rect x="114.0" y="519.0" width="1.0" height="32.0" fill="#0000cc" />
<rect x="110.5" y="538.5" width="9.0" height="10.0" fill="#fff" stroke="#0000cc" />
<rect x="124.0" y="523.0" width="1.0" height="21.0" fill="#0000cc" />
<rect x="120.5" y="530.5" width="9.0" height="7.0" fill="#fff" stroke="#0000cc" />
<rect x="133.0" y="518.0" width="1.0" height="18.0" fill="#0000cc" />
<rect x="129.5" y="524.5" width="9.0" height="5.0" fill="#fff" stroke="#0000cc" />
<rect x="143.0" y="520.0" width="1.0" height="41.0" fill="#0000cc" />
<rect x="139.0" y="523.0" width="10.0" height="27.0" fill="#0000cc" />
<rect x="153.0" y="538.0" width="1.0" height="34.0" fill="#0000cc" />
<rect x="149.0" y="548.0" width="10.0" height="16.0" fill="#0000cc" />
<rect x="162.0" y="557.0" width="1.0" height="17.0" fill="#0000cc" />
<rect x="158.0" y="563.0" width="10.0" height="8.0" fill="#0000cc" />
<rect x="172.0" y="562.0" width="1.0" height="22.0" fill="#0000cc" />
<rect x="168.0" y="570.0" width="10.0" height="7.0" fill="#0000cc" />
<rect x="181.0" y="576.0" width="1.0" height="24.0" fill="#0000cc" />
<rect x="177.0" y="577.0" width="10.0" height="14.0" fill="#0000cc" />
<rect x="191.0" y="576.0" width="1.0" height="23.0" fill="#0000cc" />
<rect x="187.5" y="578.5" width="9.0" height="10.0" fill="#fff" stroke="#0000cc" />
<rect x="200.0" y="575.0" width="1.0" height="24.0" fill="#0000cc" />
<rect x="196.0" y="577.0" width="10.0" height="16.0" fill="#0000cc" />
<rect x="210.0" y="585.0" width="1.0" height="14.0" fill="#0000cc" />
<rect x="206.0" y="587.0" width="10.0" height="10.0" fill="#0000cc" />
<rect x="219.0" y="585.0" width="1.0" height="14.0" fill="#0000cc" />
<rect x="215.5" y="595.5" width="9.0" height="2.0" fill="#fff" stroke="#0000cc" />
<rect x="229.0" y="592.0" width="1.0" height="17.0" fill="#0000cc" />
<rect x="225.0" y="594.0" width="10.0" height="12.0" fill="#0000cc" />
<rect x="238.0" y="596.0" width="1.0" height="16.0" fill="#0000cc" />
<rect x="234.0" y="605.0" width="10.0" height="3.0" fill="#0000cc" />
<rect x="248.0" y="592.0" width="1.0" height="17.0" fill="#0000cc" />
<rect x="244.5" y="594.5" width="9.0" height="13.0" fill="#fff" stroke="#0000cc" />
<rect x="257.0" y="578.0" width="1.0" height="15.0" fill="#0000cc" />
<rect x="253.5" y="580.5" width="9.0" height="12.0" fill="#fff" stroke="#0000cc" />
<rect x="267.0" y="559.0" width="1.0" height="22.0" fill="#0000cc" />
<rect x="263.5" y="570.5" width="9.0" height="10.0" fill="#fff" stroke="#0000cc" />
<rect x="277.0" y="552.0" width="1.0" height="26.0" fill="#0000cc" />
<rect x="273.5" y="554.5" width="9.0" height="14.0" fill="#fff" stroke="#0000cc" />
<rect x="286.0" y="537.0" width="1.0" height="22.0" fill="#0000cc" />
<rect x="282.0" y="553.0" width="10.0" height="4.0" fill="#0000cc" />
<rect x="296.0" y="535.0" width="1.0" height="24.0" fill="#0000cc" />
<rect x="292.5" y="549.5" width="9.0" height="7.0" fill="#fff" stroke="#0000cc" />
<rect x="305.0" y="543.0" width="1.0" height="28.0" fill="#0000cc" />
<rect x="301.0" y="543.0" width="10.0" height="17.0" fill="#0000cc" />
<rect x="315.0" y="546.0" width="1.0" height="19.0" fill="#0000cc" />
<rect x="311.5" y="546.5" width="9.0" height="16.0" fill="#fff" stroke="#0000cc" />
<rect x="324.0" y="536.0" width="1.0" height="13.0" fill="#0000cc" />
<rect x="320.0" y="544.0" width="10.0" height="2.0" fill="#0000cc" />
<rect x="334.0" y="539.0" width="1.0" height="17.0" fill="#0000cc" />
<rect x="330.5" y="539.5" width="9.0" height="6.0" fill="#fff" stroke="#0000cc" />
<rect x="343.0" y="522.0" width="1.0" height="19.0" fill="#0000cc" />
<rect x="339.5" y="524.5" width="9.0" height="14.0" fill="#fff" stroke="#0000cc" />
<rect x="353.0" y="515.0" width="1.0" height="13.0" fill="#0000cc" />
<rect x="349.0" y="523.0" width="10.0" height="3.0" fill="#0000cc" />
<rect x="362.0" y="524.0" width="1.0" height="28.0" fill="#0000cc" />
<rect x="358.0" y="524.0" width="10.0" height="12.0" fill="#0000cc" />
<rect x="372.0" y="522.0" width="1.0" height="20.0" fill="#0000cc" />
<rect x="368.5" y="522.5" width="9.0" height="14.0" fill="#fff" stroke="#0000cc" />
<rect x="381.0" y="520.0" width="1.0" height="20.0" fill="#0000cc" />
<rect x="377.0" y="520.0" width="10.0" height="15.0" fill="#0000cc" />
<rect x="391.0" y="533.0" width="1.0" height="18.0" fill="#0000cc" />
<rect x="387.0" y="535.0" width="10.0" height="4.0" fill="#0000cc" />
<rect x="400.0" y="533.0" width="1.0" height="14.0" fill="#0000cc" />
<rect x="396.0" y="538.0" width="10.0" height="6.0" fill="#0000cc" />
<rect x="410.0" y="532.0" width="1.0" height="19.0" fill="#0000cc" />
<rect x="406.0" y="542.0" width="10.0" height="4.0" fill="#0000cc" />
<rect x="420.0" y="533.0" width="1.0" height="15.0" fill="#0000cc" />
<rect x="416.5" y="543.5" width="9.0" height="4.0" fill="#fff" stroke="#0000cc" />
<rect x="429.0" y="529.0" width="1.0" height="18.0" fill="#0000cc" />
<rect x="425.5" y="530.5" width="9.0" height="15.0" fill="#fff" stroke="#0000cc" />
<rect x="439.0" y="528.0" width="1.0" height="9.0" fill="#0000cc" />
<rect x="435.0" y="530.0" width="10.0" height="3.0" fill="#0000cc" />
<rect x="448.0" y="524.0" width="1.0" height="12.0" fill="#0000cc" />
<rect x="444.5" y="524.5" width="9.0" height="8.0" fill="#fff" stroke="#0000cc" />
<rect x="458.0" y="520.0" width="1.0" height="11.0" fill="#0000cc" />
<rect x="454.0" y="525.0" width="10.0" height="3.0" fill="#0000cc" />
<rect x="467.0" y="521.0" width="1.0" height="25.0" fill="#0000cc" />
<rect x="463.0" y="528.0" width="10.0" height="14.0" fill="#0000cc" />
<rect x="477.0" y="535.0" width="1.0" height="11.0" fill="#0000cc" />
<rect x="473.5" y="535.5" width="9.0" height="7.0" fill="#fff" stroke="#0000cc" />
<rect x="486.0" y="528.0" width="1.0" height="10.0" fill="#0000cc" />
<rect x="482.5" y="529.5" width="9.0" height="7.0" fill="#fff" stroke="#0000cc" />
<rect x="496.0" y="521.0" width="1.0" height="9.0" fill="#0000cc" />
<rect x="492.5" y="521.5" width="9.0" height="8.0" fill="#fff" stroke="#0000cc" />
<rect x="505.0" y="507.0" width="1.0" height="22.0" fill="#0000cc" />
<rect x="501.5" y="511.5" width="9.0" height="11.0" fill="#fff" stroke="#0000cc" />
<rect x="515.0" y="484.0" width="1.0" height="26.0" fill="#0000cc" />
<rect x="511.5" y="487.5" width="9.0" height="22.0" fill="#fff" stroke="#0000cc" />
<rect x="524.0" y="483.0" width="1.0" height="17.0" fill="#0000cc" />
<rect x="520.0" y="486.0" width="10.0" height="2.0" fill="#0000cc" />
<rect x="534.0" y="457.0" width="1.0" height="29.0" fill="#0000cc" />
<rect x="530.5" y="460.5" width="9.0" height="25.0" fill="#fff" stroke="#0000cc" />
<rect x="544.0" y="427.0" width="1.0" height="34.0" fill="#0000cc" />
<rect x="540.5" y="435.5" width="9.0" height="24.0" fill="#fff" stroke="#0000cc" />
<rect x="553.0" y="420.0" width="1.0" height="38.0" fill="#0000cc" />
<rect x="549.5" y="423.5" width="9.0" height="6.0" fill="#fff" stroke="#0000cc" />
<rect x="563.0" y="420.0" width="1.0" height="30.0" fill="#0000cc" />
<rect x="559.0" y="425.0" width="10.0" height="8.0" fill="#0000cc" />
<rect x="572.0" y="413.0" width="1.0" height="34.0" fill="#0000cc" />
<rect x="568.5" y="415.5" width="9.0" height="21.0" fill="#fff" stroke="#0000cc" />
<rect x="582.0" y="404.0" width="1.0" height="18.0" fill="#0000cc" />
<rect x="578.0" y="413.0" width="10.0" height="4.0" fill="#0000cc" />
<rect x="591.0" y="407.0" width="1.0" height="42.0" fill="#0000cc" />
<rect x="587.0" y="417.0" width="10.0" height="31.0" fill="#0000cc" />
<rect x="601.0" y="441.0" width="1.0" height="38.0" fill="#0000cc" />
<rect x="597.0" y="444.0" width="10.0" height="4.0" fill="#0000cc" />
<rect x="610.0" y="442.0" width="1.0" height="29.0" fill="#0000cc" />
<rect x="606.0" y="446.0" width="10.0" height="4.0" fill="#0000cc" />
<rect x="620.0" y="431.0" width="1.0" height="24.0" fill="#0000cc" />
<rect x="616.5" y="433.5" width="9.0" height="16.0" fill="#fff" stroke="#0000cc" />
<rect x="629.0" y="427.0" width="1.0" height="22.0" fill="#0000cc" />
<rect x="625.0" y="434.0" width="10.0" height="2.0" fill="#0000cc" />
<rect x="639.0" y="417.0" width="1.0" height="20.0" fill="#0000cc" />
<rect x="635.5" y="429.5" width="9.0" height="4.0" fill="#fff" stroke="#0000cc" />
<rect x="648.0" y="425.0" width="1.0" height="21.0" fill="#0000cc" />
<rect x="644.0" y="430.0" width="10.0" height="1.0" fill="#0000cc" />
<rect x="658.0" y="408.0" width="1.0" height="26.0" fill="#0000cc" />
<rect x="654.5" y="410.5" width="9.0" height="20.0" fill="#fff" stroke="#0000cc" />
<rect x="667.0" y="402.0" width="1.0" height="19.0" fill="#0000cc" />
<rect x="663.0" y="408.0" width="10.0" height="1.0" fill="#0000cc" />
<rect x="677.0" y="388.0" width="1.0" height="25.0" fill="#0000cc" />
<rect x="673.5" y="404.5" width="9.0" height="4.0" fill="#fff" stroke="#0000cc" />
<rect x="687.0" y="404.0" width="1.0" height="23.0" fill="#0000cc" />
<rect x="683.0" y="406.0" width="10.0" height="4.0" fill="#0000cc" />
<rect x="696.0" y="399.0" width="1.0" height="17.0" fill="#0000cc" />
<rect x="692.0" y="407.0" width="10.0" height="2.0" fill="#0000cc" />
<rect x="706.0" y="397.0" width="1.0" height="15.0" fill="#0000cc" />
<rect x="702.5" y="398.5" width="9.0" height="9.0" fill="#fff" stroke="#0000cc" />
<rect x="715.0" y="388.0" width="1.0" height="16.0" fill="#0000cc" />
<rect x="711.5" y="392.5" width="9.0" height="4.0" fill="#fff" stroke="#0000cc" />
<rect x="725.0" y="388.0" width="1.0" height="28.0" fill="#0000cc" />
<rect x="721.0" y="392.0" width="10.0" height="19.0" fill="#0000cc" />
<rect x="734.0" y="410.0" width="1.0" height="43.0" fill="#0000cc" />
<rect x="730.0" y="413.0" width="10.0" height="12.0" fill="#0000cc" />
<rect x="744.0" y="416.0" width="1.0" height="30.0" fill="#0000cc" />
<rect x="740.5" y="420.5" width="9.0" height="6.0" fill="#fff" stroke="#0000cc" />
<rect x="753.0" y="405.0" width="1.0" height="28.0" fill="#0000cc" />
<rect x="749.0" y="419.0" width="10.0" height="4.0" fill="#0000cc" />
<rect x="763.0" y="418.0" width="1.0" height="47.0" fill="#0000cc" />
<rect x="759.0" y="419.0" width="10.0" height="24.0" fill="#0000cc" />
<rect x="772.0" y="434.0" width="1.0" height="24.0" fill="#0000cc" />
<rect x="768.0" y="441.0" width="10.0" height="12.0" fill="#0000cc" />
<rect x="782.0" y="459.0" width="1.0" height="51.0" fill="#0000cc" />
<rect x="778.0" y="459.0" width="10.0" height="29.0" fill="#0000cc" />
<rect x="791.0" y="475.0" width="1.0" height="26.0" fill="#0000cc" />
<rect x="787.0" y="487.0" width="10.0" height="2.0" fill="#0000cc" />
<rect x="801.0" y="491.0" width="1.0" height="38.0" fill="#0000cc" />
<rect x="797.0" y="495.0" width="10.0" height="15.0" fill="#0000cc" />
<rect x="811.0" y="478.0" width="1.0" height="30.0" fill="#0000cc" />
<rect x="807.5" y="482.5" width="9.0" height="25.0" fill="#fff" stroke="#0000cc" />
<rect x="820.0" y="468.0" width="1.0" height="21.0" fill="#0000cc" />
<rect x="816.5" y="471.5" width="9.0" height="11.0" fill="#fff" stroke="#0000cc" />
<rect x="830.0" y="465.0" width="1.0" height="25.0" fill="#0000cc" />
<rect x="826.0" y="470.0" width="10.0" height="20.0" fill="#0000cc" />
<rect x="839.0" y="485.0" width="1.0" height="21.0" fill="#0000cc" />
<rect x="835.0" y="488.0" width="10.0" height="4.0" fill="#0000cc" />
<rect x="849.0" y="489.0" width="1.0" height="19.0" fill="#0000cc" />
<rect x="845.0" y="493.0" width="10.0" height="5.0" fill="#0000cc" />
<rect x="858.0" y="500.0" width="1.0" height="40.0" fill="#0000cc" />
<rect x="854.0" y="501.0" width="10.0" height="34.0" fill="#0000cc" />
<rect x="868.0" y="529.0" width="1.0" height="95.0" fill="#0000cc" />
<rect x="864.0" y="530.0" width="10.0" height="64.0" fill="#0000cc" />
<rect x="877.0" y="570.0" width="1.0" height="47.0" fill="#0000cc" />
<rect x="873.0" y="582.0" width="10.0" height="11.0" fill="#0000cc" />
<rect x="887.0" y="584.0" width="1.0" height="23.0" fill="#0000cc" />
<rect x="883.5" y="585.5" width="9.0" height="8.0" fill="#fff" stroke="#0000cc" />
<rect x="896.0" y="575.0" width="1.0" height="37.0" fill="#0000cc" />
<rect x="892.0" y="577.0" width="10.0" height="28.0" fill="#0000cc" />
<rect x="906.0" y="597.0" width="1.0" height="24.0" fill="#0000cc" />
<rect x="902.0" y="606.0" width="10.0" height="7.0" fill="#0000cc" />
<rect x="915.0" y="585.0" width="1.0" height="39.0" fill="#0000cc" />
<rect x="911.5" y="600.5" width="9.0" height="17.0" fill="#fff" stroke="#0000cc" />
<rect x="925.0" y="580.0" width="1.0" height="22.0" fill="#0000cc" />
<rect x="921.5" y="585.5" width="9.0" height="13.0" fill="#fff" stroke="#0000cc" />
<rect x="934.0" y="571.0" width="1.0" height="16.0" fill="#0000cc" />
<rect x="930.5" y="571.5" width="9.0" height="13.0" fill="#fff" stroke="#0000cc" />
<rect x="944.0" y="557.0" width="1.0" height="16.0" fill="#0000cc" />
<rect x="940.5" y="562.5" width="9.0" height="9.0" fill="#fff" stroke="#0000cc" />
<rect x="954.0" y="553.0" width="1.0" height="29.0" fill="#0000cc" />
<rect x="950.5" y="553.5" width="9.0" height="11.0" fill="#fff" stroke="#0000cc" />
<rect x="963.0" y="545.0" width="1.0" height="15.0" fill="#0000cc" />
<rect x="959.0" y="552.0" width="10.0" height="2.0" fill="#0000cc" />
<rect x="973.0" y="549.0" width="1.0" height="14.0" fill="#0000cc" />
<rect x="969.0" y="552.0" width="10.0" height="8.0" fill="#0000cc" />
<rect x="982.0" y="552.0" width="1.0" height="18.0" fill="#0000cc" />
<rect x="978.0" y="559.0" width="10.0" height="3.0" fill="#0000cc" />
<rect x="992.0" y="561.0" width="1.0" height="22.0" fill="#0000cc" />
<rect x="988.0" y="561.0" width="10.0" height="15.0" fill="#0000cc" />
<rect x="1001.0" y="545.0" width="1.0" height="33.0" fill="#0000cc" />
<rect x="997.5" y="550.5" width="9.0" height="25.0" fill="#fff" stroke="#0000cc" />
<rect x="1011.0" y="541.0" width="1.0" height="18.0" fill="#0000cc" />
<rect x="1007.0" y="550.0" width="10.0" height="9.0" fill="#0000cc" />
<rect x="1020.0" y="552.0" width="1.0" height="13.0" fill="#0000cc" />
<rect x="1016.0" y="556.0" width="10.0" height="4.0" fill="#0000cc" />
<rect x="1030.0" y="537.0" width="1.0" height="23.0" fill="#0000cc" />
<rect x="1026.5" y="538.5" width="9.0" height="21.0" fill="#fff" stroke="#0000cc" />
<rect x="1039.0" y="532.0" width="1.0" height="13.0" fill="#0000cc" />
<rect x="1035.0" y="538.0" width="10.0" height="1.0" fill="#0000cc" />
<rect x="1049.0" y="537.0" width="1.0" height="40.0" fill="#0000cc" />
<rect x="1045.0" y="539.0" width="10.0" height="28.0" fill="#0000cc" />
<rect x="1058.0" y="557.0" width="1.0" height="19.0" fill="#0000cc" />
<rect x="1054.0" y="566.0" width="10.0" height="9.0" fill="#0000cc" />
<rect x="1068.0" y="566.0" width="1.0" height="15.0" fill="#0000cc" />
<rect x="1064.0" y="573.0" width="10.0" height="2.0" fill="#0000cc" />
<g clip-path="url(#clip2b)">
<polyline points="10.5,394.2 19.5,419.5 29.5,445.2 38.5,443.5 48.5,438.9 57.5,424.6 67.5,428.8 76.5,432.1 86.5,439.3 95.5,461.3 105.5,485.0 114.5,510.7 124.5,516.8 133.5,506.4 143.5,510.8 153.5,508.4 162.5,504.5 172.5,500.1 181.5,491.7 191.5,491.5 200.5,494.0 210.5,505.4 219.5,533.0 229.5,545.6 238.5,553.4 248.5,562.8 257.5,565.3 267.5,555.5 277.5,539.3 286.5,527.1 296.5,514.8 305.5,510.9 315.5,508.1 324.5,514.0 334.5,518.5 343.5,512.0 353.5,508.1 362.5,506.7 372.5,501.9 381.5,502.0 391.5,508.9 400.5,509.8 410.5,509.8 420.5,509.2 429.5,511.7 439.5,514.7 448.5,510.7 458.5,513.5 467.5,513.7 477.5,513.4 486.5,512.7 496.5,510.4 505.5,503.2 515.5,477.6 524.5,462.7 534.5,433.8 544.5,398.2 553.5,371.9 563.5,362.0 572.5,351.5 582.5,350.6 591.5,365.4 601.5,374.6 610.5,390.9 620.5,395.8 629.5,395.8 639.5,397.7 648.5,397.4 658.5,394.0 667.5,389.1 677.5,380.4 687.5,378.6 696.5,381.9 706.5,377.1 715.5,373.9 725.5,378.1 734.5,381.7 744.5,380.0 753.5,378.7 763.5,371.3 772.5,363.5 782.5,344.3 791.5,343.5 801.5,348.7 811.5,362.8 820.5,375.0 830.5,393.4 839.5,420.0 849.5,439.3 858.5,442.8 868.5,400.5 877.5,387.2 887.5,381.6 896.5,386.8 906.5,408.0 915.5,433.7 925.5,471.3 934.5,521.1 944.5,544.6 954.5,528.9 963.5,517.8 973.5,512.0 982.5,512.2 992.5,524.1 1001.5,530.1 1011.5,536.5 1020.5,538.1 1030.5,528.0 1039.5,521.5 1049.5,521.3 1058.5,519.0 1068.5,517.5" fill="none" stroke="#ff0000" stroke-width="1" />
<polyline points="10.5,419.6 19.5,438.6 29.5,458.2 38.5,459.2 48.5,459.2 57.5,452.7 67.5,458.4 76.5,462.3 86.5,469.0 95.5,486.8 105.5,504.7 114.5,523.2 124.5,527.6 133.5,519.8 143.5,522.1 153.5,520.8 162.5,519.1 172.5,517.0 181.5,512.5 191.5,513.5 200.5,517.1 210.5,527.2 219.5,548.2 229.5,558.7 238.5,565.5 248.5,572.6 257.5,574.4 267.5,567.2 277.5,555.5 286.5,546.0 296.5,536.1 305.5,532.2 315.5,528.1 324.5,529.7 334.5,530.7 343.5,524.3 353.5,520.0 362.5,518.4 372.5,513.9 381.5,513.4 391.5,517.3 400.5,517.8 410.5,517.8 420.5,517.5 429.5,519.4 439.5,521.7 448.5,518.6 458.5,520.7 467.5,521.0 477.5,520.7 486.5,519.7 496.5,517.3 505.5,511.3 515.5,492.6 524.5,481.1 534.5,459.4 544.5,432.3 553.5,410.4 563.5,399.9 572.5,388.8 582.5,384.3 591.5,391.8 601.5,396.4 610.5,405.9 620.5,408.2 629.5,408.2 639.5,409.6 648.5,409.3 658.5,406.9 667.5,403.3 677.5,395.9 687.5,393.3 696.5,394.0 706.5,389.5 715.5,385.8 725.5,387.9 734.5,390.1 744.5,389.3 753.5,388.9 763.5,385.4 772.5,381.8 782.5,371.9 791.5,374.8 801.5,382.5 811.5,394.6 820.5,404.5 830.5,419.3 839.5,439.6 849.5,454.5 858.5,459.9 868.5,435.6 877.5,430.6 887.5,429.7 896.5,437.6 906.5,457.0 915.5,478.2 925.5,506.8 934.5,542.8 944.5,559.4 954.5,547.5 963.5,538.7 973.5,533.9 982.5,532.4 992.5,538.9 1001.5,541.1 1011.5,544.3 1020.5,545.0 1030.5,537.3 1039.5,532.4 1049.5,532.8 1058.5,531.8 1068.5,531.3" fill="none" stroke="#ff0000" stroke-width="1" />
<polyline points="10.5,445.0 19.5,457.7 29.5,471.2 38.5,474.9 48.5,479.5 57.5,480.8 67.5,488.0 76.5,492.5 86.5,498.7 95.5,512.2 105.5,524.3 114.5,535.7 124.5,538.4 133.5,533.3 143.5,533.3 153.5,533.2 162.5,533.7 172.5,534.0 181.5,533.3 191.5,535.4 200.5,540.2 210.5,548.9 219.5,563.4 229.5,571.7 238.5,577.6 248.5,582.5 257.5,583.6 267.5,578.9 277.5,571.7 286.5,565.0 296.5,557.4 305.5,553.4 315.5,548.1 324.5,545.5 334.5,542.9 343.5,536.6 353.5,532.0 362.5,530.1 372.5,526.0 381.5,524.9 391.5,525.6 400.5,525.7 410.5,525.7 420.5,525.8 429.5,527.1 439.5,528.6 448.5,526.5 458.5,527.8 467.5,528.3 477.5,528.1 486.5,526.8 496.5,524.2 505.5,519.5 515.5,507.7 524.5,499.4 534.5,485.1 544.5,466.4 553.5,448.9 563.5,437.9 572.5,426.0 582.5,417.9 591.5,418.1 601.5,418.2 610.5,420.8 620.5,420.5 629.5,420.5 639.5,421.6 648.5,421.3 658.5,419.8 667.5,417.6 677.5,411.5 687.5,408.1 696.5,406.1 706.5,401.9 715.5,397.7 725.5,397.7 734.5,398.4 744.5,398.6 753.5,399.2 763.5,399.5 772.5,400.1 782.5,399.6 791.5,406.0 801.5,416.4 811.5,426.4 820.5,434.0 830.5,445.2 839.5,459.2 849.5,469.7 858.5,476.9 868.5,470.7 877.5,474.0 887.5,477.7 896.5,488.5 906.5,506.0 915.5,522.8 925.5,542.3 934.5,564.4 944.5,574.3 954.5,566.1 963.5,559.5 973.5,555.7 982.5,552.5 992.5,553.7 1001.5,552.1 1011.5,552.2 1020.5,551.8 1030.5,546.7 1039.5,543.4 1049.5,544.3 1058.5,544.6 1068.5,545.1" fill="none" stroke="#ff0000" stroke-width="1" />
<polyline points="10.5,495.8 19.5,495.9 29.5,497.2 38.5,506.3 48.5,520.1 57.5,537.0 67.5,547.2 76.5,552.9 86.5,558.2 95.5,563.1 105.5,563.7 114.5,560.8 124.5,559.9 133.5,560.1 143.5,555.8 153.5,558.1 162.5,562.8 172.5,568.0 181.5,574.9 191.5,579.3 200.5,586.5 210.5,592.4 219.5,593.8 229.5,597.9 238.5,601.8 248.5,602.2 257.5,602.0 267.5,602.3 277.5,604.1 286.5,602.9 296.5,600.0 305.5,596.0 315.5,588.2 324.5,577.0 334.5,567.3 343.5,561.2 353.5,555.9 362.5,553.5 372.5,550.1 381.5,547.8 391.5,542.4 400.5,541.6 410.5,541.6 420.5,542.5 429.5,542.5 439.5,542.5 448.5,542.2 458.5,542.0 467.5,543.0 477.5,542.7 486.5,540.8 496.5,538.0 505.5,535.7 515.5,537.9 524.5,536.2 534.5,536.3 544.5,534.6 553.5,525.8 563.5,513.9 572.5,500.5 582.5,485.2 591.5,470.8 601.5,461.8 610.5,450.8 620.5,445.1 629.5,445.1 639.5,445.4 648.5,445.2 658.5,445.6 667.5,446.0 677.5,442.6 687.5,437.5 696.5,430.3 706.5,426.8 715.5,421.5 725.5,417.3 734.5,415.2 744.5,417.2 753.5,419.7 763.5,427.8 772.5,436.8 782.5,454.9 791.5,468.5 801.5,484.1 811.5,490.0 820.5,493.0 830.5,497.0 839.5,498.4 849.5,500.1 858.5,511.1 868.5,540.9 877.5,560.8 887.5,573.9 896.5,590.2 906.5,604.0 915.5,611.9 925.5,613.3 934.5,607.7 944.5,604.0 954.5,603.3 963.5,601.2 973.5,599.3 982.5,592.9 992.5,583.4 1001.5,574.0 1011.5,567.9 1020.5,565.5 1030.5,565.4 1039.5,565.3 1049.5,567.3 1058.5,570.3 1068.5,572.7" fill="none" stroke="#ff0000" stroke-width="1" />
<polyline points="10.5,521.2 19.5,515.0 29.5,510.2 38.5,522.0 48.5,540.4 57.5,565.1 67.5,576.8 76.5,583.1 86.5,587.9 95.5,588.6 105.5,583.4 114.5,573.3 124.5,570.7 133.5,573.5 143.5,567.1 153.5,570.6 162.5,577.4 172.5,585.0 181.5,595.8 191.5,601.3 200.5,609.6 210.5,614.2 219.5,609.0 229.5,610.9 238.5,613.9 248.5,612.1 257.5,611.2 267.5,614.0 277.5,620.3 286.5,621.8 296.5,621.3 305.5,617.2 315.5,608.2 324.5,592.7 334.5,579.5 343.5,573.5 353.5,567.8 362.5,565.2 372.5,562.1 381.5,559.3 391.5,550.8 400.5,549.6 410.5,549.6 420.5,550.8 429.5,550.2 439.5,549.5 448.5,550.1 458.5,549.2 467.5,550.4 477.5,550.0 486.5,547.9 496.5,545.0 505.5,543.8 515.5,553.0 524.5,554.5 534.5,561.9 544.5,568.7 553.5,564.3 563.5,551.9 572.5,537.7 582.5,518.9 591.5,497.2 601.5,483.7 610.5,465.7 620.5,457.4 629.5,457.4 639.5,457.3 648.5,457.2 658.5,458.5 667.5,460.3 677.5,458.1 687.5,452.3 696.5,442.4 706.5,439.2 715.5,433.4 725.5,427.1 734.5,423.5 744.5,426.5 753.5,430.0 763.5,442.0 772.5,455.1 782.5,482.6 791.5,499.7 801.5,518.0 811.5,521.9 820.5,522.5 830.5,522.9 839.5,518.0 849.5,515.3 858.5,528.2 868.5,576.0 877.5,604.2 887.5,621.9 896.5,641.1 906.5,653.0 915.5,656.5 925.5,648.8 934.5,629.3 944.5,618.8 954.5,621.9 963.5,622.0 973.5,621.1 982.5,613.0 992.5,598.3 1001.5,584.9 1011.5,575.7 1020.5,572.4 1030.5,574.7 1039.5,576.3 1049.5,578.8 1058.5,583.1 1068.5,586.6" fill="none" stroke="#ff0000" stroke-width="1" />
<polyline points="10.5,546.6 19.5,534.1 29.5,523.2 38.5,537.7 48.5,560.7 57.5,593.2 67.5,606.4 76.5,613.3 86.5,617.6 95.5,614.0 105.5,603.1 114.5,585.8 124.5,581.4 133.5,586.9 143.5,578.3 153.5,583.0 162.5,592.0 172.5,602.0 181.5,616.6 191.5,623.2 200.5,632.8 210.5,635.9 219.5,624.2 229.5,624.0 238.5,626.0 248.5,622.0 257.5,620.3 267.5,625.7 277.5,636.5 286.5,640.8 296.5,642.5 305.5,638.5 315.5,628.2 324.5,608.5 334.5,591.7 343.5,585.9 353.5,579.8 362.5,576.9 372.5,574.2 381.5,570.7 391.5,559.2 400.5,557.5 410.5,557.5 420.5,559.1 429.5,557.9 439.5,556.4 448.5,558.0 458.5,556.3 467.5,557.7 477.5,557.3 486.5,554.9 496.5,551.9 505.5,551.9 515.5,568.0 524.5,572.9 534.5,587.6 544.5,602.8 553.5,602.8 563.5,589.9 572.5,574.9 582.5,552.5 591.5,523.5 601.5,505.5 610.5,480.7 620.5,469.8 629.5,469.8 639.5,469.2 648.5,469.1 658.5,471.4 667.5,474.5 677.5,473.7 687.5,467.0 696.5,454.6 706.5,451.6 715.5,445.3 725.5,436.9 734.5,431.9 744.5,435.8 753.5,440.3 763.5,456.1 772.5,473.5 782.5,510.2 791.5,531.0 801.5,551.8 811.5,553.7 820.5,552.0 830.5,548.8 839.5,537.6 849.5,530.5 858.5,545.3 868.5,611.1 877.5,647.6 887.5,670.0 896.5,691.9 906.5,702.1 915.5,701.0 925.5,684.3 934.5,650.9 944.5,633.7 954.5,640.5 963.5,642.9 973.5,642.9 982.5,633.2 992.5,613.1 1001.5,595.9 1011.5,583.5 1020.5,579.3 1030.5,584.0 1039.5,587.3 1049.5,590.3 1058.5,596.0 1068.5,600.4" fill="none" stroke="#ff0000" stroke-width="1" />
<polyline points="10.5,470.4 19.5,476.8 29.5,484.2 38.5,490.6 48.5,499.8 57.5,508.9 67.5,517.6 76.5,522.7 86.5,528.5 95.5,537.7 105.5,544.0 114.5,548.2 124.5,549.1 133.5,546.7 143.5,544.6 153.5,545.7 162.5,548.2 172.5,551.0 181.5,554.1 191.5,557.4 200.5,563.4 210.5,570.7 219.5,578.6 229.5,584.8 238.5,589.7 248.5,592.4 257.5,592.8 267.5,590.6 277.5,587.9 286.5,583.9 296.5,578.7 305.5,574.7 315.5,568.1 324.5,561.2 334.5,555.1 343.5,548.9 353.5,543.9 362.5,541.8 372.5,538.0 381.5,536.4 391.5,534.0 400.5,533.7 410.5,533.7 420.5,534.1 429.5,534.8 439.5,535.6 448.5,534.4 458.5,534.9 467.5,535.7 477.5,535.4 486.5,533.8 496.5,531.1 505.5,527.6 515.5,522.8 524.5,517.8 534.5,510.7 544.5,500.5 553.5,487.4 563.5,475.9 572.5,463.2 582.5,451.6 591.5,444.5 601.5,440.0 610.5,435.8 620.5,432.8 629.5,432.8 639.5,433.5 648.5,433.2 658.5,432.7 667.5,431.8 677.5,427.0 687.5,422.8 696.5,418.2 706.5,414.4 715.5,409.6 725.5,407.5 734.5,406.8 744.5,407.9 753.5,409.5 763.5,413.7 772.5,418.5 782.5,427.2 791.5,437.2 801.5,450.2 811.5,458.2 820.5,463.5 830.5,471.1 839.5,478.8 849.5,484.9 858.5,494.0 868.5,505.8 877.5,517.4 887.5,525.8 896.5,539.4 906.5,555.0 915.5,567.4 925.5,577.8 934.5,586.0 944.5,589.1 954.5,584.7 963.5,580.4 973.5,577.5 982.5,572.7 992.5,568.6 1001.5,563.0 1011.5,560.0 1020.5,558.7 1030.5,556.0 1039.5,554.4 1049.5,555.8 1058.5,557.5 1068.5,558.9" fill="none" stroke="#555" stroke-width="1" />
</g>
<rect x="6.5" y="691.5" width="9.0" height="11.0" fill="#99ccff" stroke="#0000cc" />
<rect x="15.5" y="693.5" width="10.0" height="9.0" fill="#99ccff" stroke="#0000cc" />
<rect x="25.5" y="692.5" width="9.0" height="10.0" fill="#99ccff" stroke="#0000cc" />
<rect x="34.5" y="691.5" width="10.0" height="11.0" fill="#99ccff" stroke="#0000cc" />
<rect x="44.5" y="690.5" width="9.0" height="12.0" fill="#99ccff" stroke="#0000cc" />
<rect x="53.5" y="691.5" width="10.0" height="11.0" fill="#99ccff" stroke="#0000cc" />
<rect x="63.5" y="691.5" width="9.0" height="11.0" fill="#99ccff" stroke="#0000cc" />
<rect x="72.5" y="691.5" width="10.0" height="11.0" fill="#99ccff" stroke="#0000cc" />
<rect x="82.5" y="693.5" width="9.0" height="9.0" fill="#99ccff" stroke="#0000cc" />
<rect x="91.5" y="694.5" width="10.0" height="8.0" fill="#99ccff" stroke="#0000cc" />
<rect x="101.5" y="690.5" width="9.0" height="12.0" fill="#99ccff" stroke="#0000cc" />
<rect x="110.5" y="689.5" width="10.0" height="13.0" fill="#99ccff" stroke="#0000cc" />
<rect x="120.5" y="691.5" width="9.0" height="11.0" fill="#99ccff" stroke="#0000cc" />
<rect x="129.5" y="693.5" width="10.0" height="9.0" fill="#99ccff" stroke="#0000cc" />
<rect x="139.5" y="691.5" width="10.0" height="11.0" fill="#99ccff" stroke="#0000cc" />
<rect x="149.5" y="687.5" width="9.0" height="15.0" fill="#99ccff" stroke="#0000cc" />
<rect x="158.5" y="691.5" width="10.0" height="11.0" fill="#99ccff" stroke="#0000cc" />
<rect x="168.5" y="691.5" width="9.0" height="11.0" fill="#99ccff" stroke="#0000cc" />
<rect x="177.5" y="688.5" width="10.0" height="14.0" fill="#99ccff" stroke="#0000cc" />
<rect x="187.5" y="690.5" width="9.0" height="12.0" fill="#99ccff" stroke="#0000cc" />
<rect x="196.5" y="692.5" width="10.0" height="10.0" fill="#99ccff" stroke="#0000cc" />
<rect x="206.5" y="692.5" width="9.0" height="10.0" fill="#99ccff" stroke="#0000cc" />
<rect x="215.5" y="691.5" width="10.0" height="11.0" fill="#99ccff" stroke="#0000cc" />
<rect x="225.5" y="690.5" width="9.0" height="12.0" fill="#99ccff" stroke="#0000cc" />
<rect x="234.5" y="689.5" width="10.0" height="13.0" fill="#99ccff" stroke="#0000cc" />
<rect x="244.5" y="689.5" width="9.0" height="13.0" fill="#99ccff" stroke="#0000cc" />
<rect x="253.5" y="688.5" width="10.0" height="14.0" fill="#99ccff" stroke="#0000cc" />
<rect x="263.5" y="683.5" width="10.0" height="19.0" fill="#99ccff" stroke="#0000cc" />
<rect x="273.5" y="687.5" width="9.0" height="15.0" fill="#99ccff" stroke="#0000cc" />
<rect x="282.5" y="687.5" width="10.0" height="15.0" fill="#99ccff" stroke="#0000cc" />
<rect x="292.5" y="685.5" width="9.0" height="17.0" fill="#99ccff" stroke="#0000cc" />
<rect x="301.5" y="688.5" width="10.0" height="14.0" fill="#99ccff" stroke="#0000cc" />
<rect x="311.5" y="690.5" width="9.0" height="12.0" fill="#99ccff" stroke="#0000cc" />
<rect x="320.5" y="689.5" width="10.0" height="13.0" fill="#99ccff" stroke="#0000cc" />
<rect x="330.5" y="688.5" width="9.0" height="14.0" fill="#99ccff" stroke="#0000cc" />
<rect x="339.5" y="685.5" width="10.0" height="17.0" fill="#99ccff" stroke="#0000cc" />
<rect x="349.5" y="684.5" width="9.0" height="18.0" fill="#99ccff" stroke="#0000cc" />
<rect x="358.5" y="683.5" width="10.0" height="19.0" fill="#99ccff" stroke="#0000cc" />
<rect x="368.5" y="685.5" width="9.0" height="17.0" fill="#99ccff" stroke="#0000cc" />
<rect x="377.5" y="687.5" width="10.0" height="15.0" fill="#99ccff" stroke="#0000cc" />
<rect x="387.5" y="688.5" width="9.0" height="14.0" fill="#99ccff" stroke="#0000cc" />
<rect x="396.5" y="689.5" width="10.0" height="13.0" fill="#99ccff" stroke="#0000cc" />
<rect x="406.5" y="686.5" width="10.0" height="16.0" fill="#99ccff" stroke="#0000cc" />
<rect x="416.5" y="688.5" width="9.0" height="14.0" fill="#99ccff" stroke="#0000cc" />
<rect x="425.5" y="688.5" width="10.0" height="14.0" fill="#99ccff" stroke="#0000cc" />
<rect x="435.5" y="689.5" width="9.0" height="13.0" fill="#99ccff" stroke="#0000cc" />
<rect x="444.5" y="689.5" width="10.0" height="13.0" fill="#99ccff" stroke="#0000cc" />
<rect x="454.5" y="687.5" width="9.0" height="15.0" fill="#99ccff" stroke="#0000cc" />
<rect x="463.5" y="680.5" width="10.0" height="22.0" fill="#99ccff" stroke="#0000cc" />
<rect x="473.5" y="688.5" width="9.0" height="14.0" fill="#99ccff" stroke="#0000cc" />
<rect x="482.5" y="688.5" width="10.0" height="14.0" fill="#99ccff" stroke="#0000cc" />
<rect x="492.5" y="688.5" width="9.0" height="14.0" fill="#99ccff" stroke="#0000cc" />
<rect x="501.5" y="679.5" width="10.0" height="23.0" fill="#99ccff" stroke="#0000cc" />
<rect x="511.5" y="682.5" width="9.0" height="20.0" fill="#99ccff" stroke="#0000cc" />
<rect x="520.5" y="674.5" width="10.0" height="28.0" fill="#99ccff" stroke="#0000cc" />
<rect x="530.5" y="679.5" width="10.0" height="23.0" fill="#99ccff" stroke="#0000cc" />
<rect x="540.5" y="669.5" width="9.0" height="33.0" fill="#99ccff" stroke="#0000cc" />
<rect x="549.5" y="669.5" width="10.0" height="33.0" fill="#99ccff" stroke="#0000cc" />
<rect x="559.5" y="671.5" width="9.0" height="31.0" fill="#99ccff" stroke="#0000cc" />
<rect x="568.5" y="675.5" width="10.0" height="27.0" fill="#99ccff" stroke="#0000cc" />
<rect x="578.5" y="672.5" width="9.0" height="30.0" fill="#99ccff" stroke="#0000cc" />
<rect x="587.5" y="669.5" width="10.0" height="33.0" fill="#99ccff" stroke="#0000cc" />
<rect x="597.5" y="665.5" width="9.0" height="37.0" fill="#99ccff" stroke="#0000cc" />
<rect x="606.5" y="673.5" width="10.0" height="29.0" fill="#99ccff" stroke="#0000cc" />
<rect x="616.5" y="674.5" width="9.0" height="28.0" fill="#99ccff" stroke="#0000cc" />
<rect x="625.5" y="676.5" width="10.0" height="26.0" fill="#99ccff" stroke="#0000cc" />
<rect x="635.5" y="676.5" width="9.0" height="26.0" fill="#99ccff" stroke="#0000cc" />
<rect x="644.5" y="674.5" width="10.0" height="28.0" fill="#99ccff" stroke="#0000cc" />
<rect x="654.5" y="680.5" width="9.0" height="22.0" fill="#99ccff" stroke="#0000cc" />
<rect x="663.5" y="673.5" width="10.0" height="29.0" fill="#99ccff" stroke="#0000cc" />
<rect x="673.5" y="670.5" width="10.0" height="32.0" fill="#99ccff" stroke="#0000cc" />
<rect x="683.5" y="663.5" width="9.0" height="39.0" fill="#99ccff" stroke="#0000cc" />
<rect x="692.5" y="671.5" width="10.0" height="31.0" fill="#99ccff" stroke="#0000cc" />
<rect x="702.5" y="669.5" width="9.0" height="33.0" fill="#99ccff" stroke="#0000cc" />
<rect x="711.5" y="673.5" width="10.0" height="29.0" fill="#99ccff" stroke="#0000cc" />
<rect x="721.5" y="671.5" width="9.0" height="31.0" fill="#99ccff" stroke="#0000cc" />
<rect x="730.5" y="648.5" width="10.0" height="54.0" fill="#99ccff" stroke="#0000cc" />
<rect x="740.5" y="671.5" width="9.0" height="31.0" fill="#99ccff" stroke="#0000cc" />
<rect x="749.5" y="667.5" width="10.0" height="35.0" fill="#99ccff" stroke="#0000cc" />
<rect x="759.5" y="657.5" width="9.0" height="45.0" fill="#99ccff" stroke="#0000cc" />
<rect x="768.5" y="675.5" width="10.0" height="27.0" fill="#99ccff" stroke="#0000cc" />
<rect x="778.5" y="658.5" width="9.0" height="44.0" fill="#99ccff" stroke="#0000cc" />
<rect x="787.5" y="666.5" width="10.0" height="36.0" fill="#99ccff" stroke="#0000cc" />
<rect x="797.5" y="663.5" width="10.0" height="39.0" fill="#99ccff" stroke="#0000cc" />
<rect x="807.5" y="669.5" width="9.0" height="33.0" fill="#99ccff" stroke="#0000cc" />
<rect x="816.5" y="667.5" width="10.0" height="35.0" fill="#99ccff" stroke="#0000cc" />
<rect x="826.5" y="669.5" width="9.0" height="33.0" fill="#99ccff" stroke="#0000cc" />
<rect x="835.5" y="662.5" width="10.0" height="40.0" fill="#99ccff" stroke="#0000cc" />
<rect x="845.5" y="671.5" width="9.0" height="31.0" fill="#99ccff" stroke="#0000cc" />
<rect x="854.5" y="663.5" width="10.0" height="39.0" fill="#99ccff" stroke="#0000cc" />
<rect x="864.5" y="633.5" width="9.0" height="69.0" fill="#99ccff" stroke="#0000cc" />
<rect x="873.5" y="667.5" width="10.0" height="35.0" fill="#99ccff" stroke="#0000cc" />
<rect x="883.5" y="675.5" width="9.0" height="27.0" fill="#99ccff" stroke="#0000cc" />
<rect x="892.5" y="677.5" width="10.0" height="25.0" fill="#99ccff" stroke="#0000cc" />
<rect x="902.5" y="676.5" width="9.0" height="26.0" fill="#99ccff" stroke="#0000cc" />
<rect x="911.5" y="672.5" width="10.0" height="30.0" fill="#99ccff" stroke="#0000cc" />
<rect x="921.5" y="673.5" width="9.0" height="29.0" fill="#99ccff" stroke="#0000cc" />
<rect x="930.5" y="682.5" width="10.0" height="20.0" fill="#99ccff" stroke="#0000cc" />
<rect x="940.5" y="678.5" width="10.0" height="24.0" fill="#99ccff" stroke="#0000cc" />
<rect x="950.5" y="675.5" width="9.0" height="27.0" fill="#99ccff" stroke="#0000cc" />
<rect x="959.5" y="674.5" width="10.0" height="28.0" fill="#99ccff" stroke="#0000cc" />
<rect x="969.5" y="679.5" width="9.0" height="23.0" fill="#99ccff" stroke="#0000cc" />
<rect x="978.5" y="679.5" width="10.0" height="23.0" fill="#99ccff" stroke="#0000cc" />
<rect x="988.5" y="679.5" width="9.0" height="23.0" fill="#99ccff" stroke="#0000cc" />
<rect x="997.5" y="679.5" width="10.0" height="23.0" fill="#99ccff" stroke="#0000cc" />
<rect x="1007.5" y="675.5" width="9.0" height="27.0" fill="#99ccff" stroke="#0000cc" />
<rect x="1016.5" y="680.5" width="10.0" height="22.0" fill="#99ccff" stroke="#0000cc" />
<rect x="1026.5" y="682.5" width="9.0" height="20.0" fill="#99ccff" stroke="#0000cc" />
<rect x="1035.5" y="679.5" width="10.0" height="23.0" fill="#99ccff" stroke="#0000cc" />
<rect x="1045.5" y="669.5" width="9.0" height="33.0" fill="#99ccff" stroke="#0000cc" />
<rect x="1054.5" y="677.5" width="10.0" height="25.0" fill="#99ccff" stroke="#0000cc" />
<rect x="1064.5" y="689.5" width="10.0" height="13.0" fill="#99ccff" stroke="#0000cc" />
</g>
<rect x="5.0" y="360.0" width="1.0" height="343.0" fill="#000" />
<rect x="1154.0" y="360.0" width="1.0" height="343.0" fill="#000" />
<line x1="1075.0" y1="703.5" x2="1154.0" y2="703.5" stroke="#a3a3e3" stroke-width="1" />
<rect x="6.0" y="703.0" width="1149.0" height="6.0" fill="#c8c8c8" />
<rect x="6.5" y="704.5" width="15.0" height="5.0" fill="#eee" stroke="#fff" />
<rect x="1048.5" y="704.5" width="15.0" height="5.0" fill="#eee" stroke="#fff" />
<rect x="1138.5" y="704.5" width="15.0" height="5.0" fill="#dfefff" stroke="#5599cc" />
<g clip-path="url(#clip3)">
<polygon points="654.3,836.7 664.5,837.4 664.5,821.3 654.3,816.7" fill="#808080"/>
<polygon points="664.5,837.4 674.6,837.2 674.6,825.4 664.5,821.3" fill="#808080"/>
<polygon points="674.6,837.2 684.8,837.2 684.8,826.7 674.6,825.4" fill="#808080"/>
<polygon points="684.8,837.2 695.0,837.2 695.0,831.6 684.8,826.7" fill="#808080"/>
<polygon points="695.0,837.2 705.2,837.2 705.2,831.6 695.0,831.6" fill="#808080"/>
<polygon points="705.2,837.2 715.3,836.8 715.3,831.6 705.2,831.6" fill="#808080"/>
<polygon points="715.3,836.8 725.5,834.1 725.5,831.3 715.3,831.6" fill="#808080"/>
<polygon points="725.5,834.1 731.5,831.3 725.5,831.3" fill="#808080"/>
<polygon points="731.5,831.3 735.7,829.4 735.7,831.3" fill="#c0c0c0"/>
<polygon points="735.7,829.4 745.8,822.3 745.8,836.4 735.7,831.3" fill="#c0c0c0"/>
<polygon points="745.8,822.3 756.0,821.1 756.0,836.1 745.8,836.4" fill="#c0c0c0"/>
<polygon points="756.0,821.1 766.2,813.7 766.2,828.8 756.0,836.1" fill="#c0c0c0"/>
<polygon points="766.2,813.7 776.4,805.3 776.4,820.4 766.2,828.8" fill="#c0c0c0"/>
<polygon points="776.4,805.3 786.5,802.5 786.5,818.4 776.4,820.4" fill="#c0c0c0"/>
<polygon points="786.5,802.5 796.7,800.1 796.7,818.4 786.5,818.4" fill="#c0c0c0"/>
<polygon points="796.7,800.1 806.9,797.0 806.9,816.4 796.7,818.4" fill="#c0c0c0"/>
<polygon points="806.9,797.0 817.0,793.8 817.0,813.9 806.9,816.4" fill="#c0c0c0"/>
<polygon points="817.0,793.8 827.2,791.1 827.2,813.9 817.0,813.9" fill="#c0c0c0"/>
<polygon points="827.2,791.1 837.4,789.7 837.4,813.9 827.2,813.9" fill="#c0c0c0"/>
<polygon points="837.4,789.7 847.6,787.6 847.6,813.9 837.4,813.9" fill="#c0c0c0"/>
<polygon points="847.6,787.6 857.7,786.6 857.7,813.9 847.6,813.9" fill="#c0c0c0"/>
<polygon points="857.7,786.6 867.9,786.6 867.9,813.9 857.7,813.9" fill="#c0c0c0"/>
<polygon points="867.9,786.6 878.1,786.6 878.1,813.9 867.9,813.9" fill="#c0c0c0"/>
<polygon points="878.1,786.6 888.2,786.6 888.2,813.9 878.1,813.9" fill="#c0c0c0"/>
<polygon points="888.2,786.6 898.4,786.2 898.4,813.9 888.2,813.9" fill="#c0c0c0"/>
<polygon points="898.4,786.2 908.6,785.5 908.6,813.3 898.4,813.9" fill="#c0c0c0"/>
<polygon points="908.6,785.5 918.8,781.4 918.8,809.4 908.6,813.3" fill="#c0c0c0"/>
<polygon points="918.8,781.4 928.9,780.3 928.9,809.4 918.8,809.4" fill="#c0c0c0"/>
<polygon points="928.9,780.3 939.1,778.0 939.1,809.4 928.9,809.4" fill="#c0c0c0"/>
<polygon points="939.1,778.0 949.3,777.2 949.3,809.4 939.1,809.4" fill="#c0c0c0"/>
<polygon points="949.3,777.2 959.4,776.8 959.4,809.4 949.3,809.4" fill="#c0c0c0"/>
<polygon points="959.4,776.8 969.6,775.6 969.6,809.4 959.4,809.4" fill="#c0c0c0"/>
<polygon points="969.6,775.6 979.8,775.5 979.8,808.5 969.6,809.4" fill="#c0c0c0"/>
<polygon points="979.8,775.5 990.0,775.4 990.0,804.0 979.8,808.5" fill="#c0c0c0"/>
<polygon points="990.0,775.4 1000.1,772.7 1000.1,800.7 990.0,804.0" fill="#c0c0c0"/>
<polygon points="1000.1,772.7 1010.3,773.0 1010.3,799.8 1000.1,800.7" fill="#c0c0c0"/>
<polygon points="1010.3,773.0 1020.5,771.0 1020.5,797.9 1010.3,799.8" fill="#c0c0c0"/>
<polygon points="1020.5,771.0 1030.6,780.7 1030.6,797.9 1020.5,797.9" fill="#c0c0c0"/>
<polygon points="1030.6,780.7 1040.8,780.7 1040.8,797.9 1030.6,797.9" fill="#c0c0c0"/>
<polygon points="1040.8,780.7 1051.0,786.0 1051.0,796.2 1040.8,797.9" fill="#c0c0c0"/>
<polygon points="1051.0,786.0 1061.2,788.4 1061.2,793.6 1051.0,796.2" fill="#c0c0c0"/>
<polygon points="1061.2,788.4 1071.3,788.4 1071.3,793.6 1061.2,793.6" fill="#c0c0c0"/>
<polygon points="1071.3,788.4 1081.5,788.4 1081.5,792.5 1071.3,793.6" fill="#c0c0c0"/>
<polygon points="1081.5,788.4 1091.7,790.3 1091.7,792.5 1081.5,792.5" fill="#c0c0c0"/>
<polygon points="1091.7,790.3 1101.8,792.5 1101.8,792.5 1091.7,792.5" fill="#c0c0c0"/>
<polygon points="1101.8,792.5 1112.0,799.1 1112.0,792.2 1101.8,792.5" fill="#808080"/>
<polygon points="1112.0,799.1 1122.2,823.6 1122.2,812.8 1112.0,792.2" fill="#808080"/>
<polygon points="1122.2,823.6 1132.4,823.6 1132.4,812.8 1122.2,812.8" fill="#808080"/>
<polygon points="1132.4,823.6 1142.5,823.6 1142.5,812.8 1132.4,812.8" fill="#808080"/>
<polygon points="1142.5,823.6 1152.7,823.6 1152.7,812.8 1142.5,812.8" fill="#808080"/>
<polygon points="1152.7,823.6 1162.9,823.6 1162.9,812.8 1152.7,812.8" fill="#808080"/>
<polygon points="1162.9,823.6 1173.0,826.4 1173.0,812.8 1162.9,812.8" fill="#808080"/>
<polygon points="1173.0,826.4 1183.2,827.0 1183.2,812.8 1173.0,812.8" fill="#808080"/>
<polygon points="1183.2,827.0 1193.4,828.5 1193.4,812.8 1183.2,812.8" fill="#808080"/>
<polygon points="1193.4,828.5 1203.6,832.6 1203.6,812.8 1193.4,812.8" fill="#808080"/>
<polygon points="1203.6,832.6 1213.7,836.0 1213.7,812.8 1203.6,812.8" fill="#808080"/>
<polygon points="1213.7,836.0 1223.9,834.8 1223.9,812.8 1213.7,812.8" fill="#808080"/>
<polygon points="1223.9,834.8 1234.1,837.2 1234.1,812.8 1223.9,812.8" fill="#808080"/>
<polygon points="1234.1,837.2 1244.2,837.2 1244.2,812.8 1234.1,812.8" fill="#808080"/>
<polygon points="1244.2,837.2 1254.4,837.2 1254.4,812.8 1244.2,812.8" fill="#808080"/>
<polygon points="1254.4,837.2 1264.6,836.0 1264.6,812.8 1254.4,812.8" fill="#808080"/>
<polygon points="1264.6,836.0 1274.8,835.5 1274.8,812.8 1264.6,812.8" fill="#808080"/>
<polygon points="1274.8,835.5 1284.9,838.5 1284.9,812.8 1274.8,812.8" fill="#808080"/>
<polygon points="1284.9,838.5 1295.1,838.8 1295.1,812.8 1284.9,812.8" fill="#808080"/>
<polygon points="1295.1,838.8 1305.3,838.1 1305.3,812.8 1295.1,812.8" fill="#808080"/>
<polygon points="1305.3,838.1 1315.4,838.1 1315.4,812.8 1305.3,812.8" fill="#808080"/>
<polygon points="1315.4,838.1 1325.6,838.1 1325.6,812.8 1315.4,812.8" fill="#808080"/>
<polygon points="1325.6,838.1 1335.8,838.1 1335.8,812.8 1325.6,812.8" fill="#808080"/>
<line x1="28.5" y1="720.0" x2="28.5" y2="1066.0" stroke="#c6c6c6" stroke-width="1" />
<text transform="translate(30.0,731.0) scale(0.82,1)" x="0.00 8.90 14.63" y="0" font-size="12.5" >2/1</text>
<line x1="150.5" y1="720.0" x2="150.5" y2="1066.0" stroke="#c6c6c6" stroke-width="1" />
<text transform="translate(152.0,731.0) scale(0.82,1)" x="0.00 8.90 14.63" y="0" font-size="12.5" >3/1</text>
<line x1="272.5" y1="720.0" x2="272.5" y2="1066.0" stroke="#c6c6c6" stroke-width="1" />
<text transform="translate(274.0,731.0) scale(0.82,1)" x="0.00 8.90 14.63" y="0" font-size="12.5" >4/1</text>
<line x1="394.5" y1="720.0" x2="394.5" y2="1066.0" stroke="#c6c6c6" stroke-width="1" />
<text transform="translate(396.0,731.0) scale(0.82,1)" x="0.00 8.90 14.63" y="0" font-size="12.5" >5/1</text>
<line x1="516.5" y1="720.0" x2="516.5" y2="1066.0" stroke="#c6c6c6" stroke-width="1" />
<text transform="translate(518.0,731.0) scale(0.82,1)" x="0.00 8.90 14.63" y="0" font-size="12.5" >6/1</text>
<line x1="638.5" y1="720.0" x2="638.5" y2="1066.0" stroke="#c6c6c6" stroke-width="1" />
<text transform="translate(640.0,731.0) scale(0.82,1)" x="0.00 8.90 14.63" y="0" font-size="12.5" >7/1</text>
<line x1="760.5" y1="720.0" x2="760.5" y2="1066.0" stroke="#c6c6c6" stroke-width="1" />
<text transform="translate(762.0,731.0) scale(0.82,1)" x="0.00 8.90 14.63" y="0" font-size="12.5" >8/1</text>
<line x1="882.5" y1="720.0" x2="882.5" y2="1066.0" stroke="#c6c6c6" stroke-width="1" />
<text transform="translate(884.0,731.0) scale(0.82,1)" x="0.00 8.90 14.63" y="0" font-size="12.5" >9/1</text>
<line x1="1004.5" y1="720.0" x2="1004.5" y2="1066.0" stroke="#c6c6c6" stroke-width="1" />
<text transform="translate(1006.0,731.0) scale(0.82,1)" x="0.00 7.32 16.22 21.95" y="0" font-size="12.5" >10/1</text>
<line x1="8.0" y1="751.5" x2="1156.0" y2="751.5" stroke="#c6c6c6" stroke-width="1" />
<line x1="8.0" y1="774.5" x2="1156.0" y2="774.5" stroke="#c6c6c6" stroke-width="1" />
<line x1="8.0" y1="798.5" x2="1156.0" y2="798.5" stroke="#c6c6c6" stroke-width="1" />
<line x1="8.0" y1="821.5" x2="1156.0" y2="821.5" stroke="#c6c6c6" stroke-width="1" />
<line x1="8.0" y1="844.5" x2="1156.0" y2="844.5" stroke="#c6c6c6" stroke-width="1" />
<line x1="8.0" y1="868.5" x2="1156.0" y2="868.5" stroke="#c6c6c6" stroke-width="1" />
<line x1="8.0" y1="882.5" x2="1156.0" y2="882.5" stroke="#c6c6c6" stroke-width="1" />
<line x1="8.0" y1="912.5" x2="1156.0" y2="912.5" stroke="#c6c6c6" stroke-width="1" />
<line x1="8.0" y1="955.5" x2="1156.0" y2="955.5" stroke="#c6c6c6" stroke-width="1" />
<line x1="8.0" y1="984.5" x2="1156.0" y2="984.5" stroke="#c6c6c6" stroke-width="1" />
<line x1="8.0" y1="1014.5" x2="1156.0" y2="1014.5" stroke="#c6c6c6" stroke-width="1" />
<line x1="8.0" y1="1027.5" x2="1156.0" y2="1027.5" stroke="#c6c6c6" stroke-width="1" />
<line x1="8.0" y1="1040.5" x2="1156.0" y2="1040.5" stroke="#c6c6c6" stroke-width="1" />
<line x1="8.0" y1="1053.5" x2="1156.0" y2="1053.5" stroke="#c6c6c6" stroke-width="1" />
<line x1="8.0" y1="970.5" x2="1156.0" y2="970.5" stroke="#999900" stroke-width="1" />
<line x1="880.5" y1="720.0" x2="880.5" y2="1066.0" stroke="#a3a3e3" stroke-width="1" />
<line x1="8.0" y1="1060.5" x2="1156.0" y2="1060.5" stroke="#a3a3e3" stroke-width="1" />
<text transform="translate(890.0,1057.0) scale(0.82,1)" x="0.98 7.32 14.63 21.95 29.27" y="0" font-size="12.5" fill="#a3a3e3">-9414</text>
<text transform="translate(1125.0,750.5) scale(0.82,1)" x="0.00 7.32 14.63 21.95 29.27" y="0" font-size="12.5" >18000</text>
<text transform="translate(1125.0,773.5) scale(0.82,1)" x="0.00 7.32 14.63 21.95 29.27" y="0" font-size="12.5" >16000</text>
<text transform="translate(1125.0,797.5) scale(0.82,1)" x="0.00 7.32 14.63 21.95 29.27" y="0" font-size="12.5" >14000</text>
<text transform="translate(1125.0,820.5) scale(0.82,1)" x="0.00 7.32 14.63 21.95 29.27" y="0" font-size="12.5" >12000</text>
<text transform="translate(1125.0,843.5) scale(0.82,1)" x="0.00 7.32 14.63 21.95 29.27" y="0" font-size="12.5" >10000</text>
<text transform="translate(1131.0,867.5) scale(0.82,1)" x="0.00 7.32 14.63 21.95" y="0" font-size="12.5" >8000</text>
<text transform="translate(1125.0,881.0) scale(0.82,1)" x="0.00 7.32 14.63" y="0" font-size="12.5" >400</text>
<text x="1143.0" y="881.0" font-size="11.5" >万</text>
<text transform="translate(1125.0,911.0) scale(0.82,1)" x="0.00 7.32 14.63" y="0" font-size="12.5" >200</text>
<text x="1143.0" y="911.0" font-size="11.5" >万</text>
<text transform="translate(1149.0,940.5) scale(0.82,1)" x="0.00" y="0" font-size="12.5" >0</text>
<text transform="translate(1131.0,954.5) scale(0.82,1)" x="0.00 7.32 14.63 21.95" y="0" font-size="12.5" >1000</text>
<text transform="translate(1149.0,969.0) scale(0.82,1)" x="0.00" y="0" font-size="12.5" >0</text>
<text transform="translate(1125.0,983.5) scale(0.82,1)" x="0.98 7.32 14.63 21.95 29.27" y="0" font-size="12.5" >-1000</text>
<text transform="translate(1137.0,1013.5) scale(0.82,1)" x="0.00 7.32 14.63" y="0" font-size="12.5" >100</text>
<text transform="translate(1143.0,1026.5) scale(0.82,1)" x="0.00 7.32" y="0" font-size="12.5" >75</text>
<text transform="translate(1143.0,1039.5) scale(0.82,1)" x="0.00 7.32" y="0" font-size="12.5" >50</text>
<text transform="translate(1143.0,1052.5) scale(0.82,1)" x="0.00 7.32" y="0" font-size="12.5" >25</text>
<text transform="translate(1149.0,1065.5) scale(0.82,1)" x="0.00" y="0" font-size="12.5" >0</text>
<rect x="13.0" y="831.0" width="1.0" height="15.0" fill="#0000cc" />
<rect x="8.5" y="837.5" width="10.0" height="2.0" fill="#fff" stroke="#0000cc" />
<rect x="23.0" y="832.0" width="1.0" height="12.0" fill="#0000cc" />
<rect x="18.0" y="837.0" width="11.0" height="3.0" fill="#0000cc" />
<rect x="33.0" y="833.0" width="1.0" height="14.0" fill="#0000cc" />
<rect x="28.0" y="836.0" width="11.0" height="10.0" fill="#0000cc" />
<rect x="43.0" y="835.0" width="1.0" height="17.0" fill="#0000cc" />
<rect x="38.5" y="838.5" width="10.0" height="6.0" fill="#fff" stroke="#0000cc" />
<rect x="53.0" y="821.0" width="1.0" height="18.0" fill="#0000cc" />
<rect x="48.5" y="831.5" width="10.0" height="6.0" fill="#fff" stroke="#0000cc" />
<rect x="63.0" y="823.0" width="1.0" height="12.0" fill="#0000cc" />
<rect x="58.5" y="827.5" width="10.0" height="4.0" fill="#fff" stroke="#0000cc" />
<rect x="74.0" y="820.0" width="1.0" height="11.0" fill="#0000cc" />
<rect x="69.5" y="824.5" width="10.0" height="2.0" fill="#fff" stroke="#0000cc" />
<rect x="84.0" y="821.0" width="1.0" height="24.0" fill="#0000cc" />
<rect x="79.0" y="823.0" width="11.0" height="16.0" fill="#0000cc" />
<rect x="94.0" y="831.0" width="1.0" height="20.0" fill="#0000cc" />
<rect x="89.0" y="837.0" width="11.0" height="10.0" fill="#0000cc" />
<rect x="104.0" y="842.0" width="1.0" height="10.0" fill="#0000cc" />
<rect x="99.0" y="846.0" width="11.0" height="4.0" fill="#0000cc" />
<rect x="114.0" y="845.0" width="1.0" height="13.0" fill="#0000cc" />
<rect x="109.0" y="849.0" width="11.0" height="5.0" fill="#0000cc" />
<rect x="124.0" y="853.0" width="1.0" height="14.0" fill="#0000cc" />
<rect x="119.0" y="853.0" width="11.0" height="9.0" fill="#0000cc" />
<rect x="135.0" y="853.0" width="1.0" height="13.0" fill="#0000cc" />
<rect x="130.5" y="854.5" width="10.0" height="6.0" fill="#fff" stroke="#0000cc" />
<rect x="145.0" y="852.0" width="1.0" height="14.0" fill="#0000cc" />
<rect x="140.0" y="853.0" width="11.0" height="10.0" fill="#0000cc" />
<rect x="155.0" y="858.0" width="1.0" height="8.0" fill="#0000cc" />
<rect x="150.0" y="859.0" width="11.0" height="6.0" fill="#0000cc" />
<rect x="165.0" y="858.0" width="1.0" height="8.0" fill="#0000cc" />
<rect x="160.5" y="864.5" width="10.0" height="1.0" fill="#fff" stroke="#0000cc" />
<rect x="175.0" y="862.0" width="1.0" height="10.0" fill="#0000cc" />
<rect x="170.0" y="863.0" width="11.0" height="7.0" fill="#0000cc" />
<rect x="185.0" y="864.0" width="1.0" height="10.0" fill="#0000cc" />
<rect x="180.0" y="869.0" width="11.0" height="2.0" fill="#0000cc" />
<rect x="196.0" y="862.0" width="1.0" height="10.0" fill="#0000cc" />
<rect x="191.5" y="863.5" width="10.0" height="7.0" fill="#fff" stroke="#0000cc" />
<rect x="206.0" y="854.0" width="1.0" height="9.0" fill="#0000cc" />
<rect x="201.5" y="855.5" width="10.0" height="7.0" fill="#fff" stroke="#0000cc" />
<rect x="216.0" y="843.0" width="1.0" height="13.0" fill="#0000cc" />
<rect x="211.5" y="849.5" width="10.0" height="6.0" fill="#fff" stroke="#0000cc" />
<rect x="226.0" y="839.0" width="1.0" height="15.0" fill="#0000cc" />
<rect x="221.5" y="840.5" width="10.0" height="8.0" fill="#fff" stroke="#0000cc" />
<rect x="236.0" y="831.0" width="1.0" height="13.0" fill="#0000cc" />
<rect x="231.0" y="840.0" width="11.0" height="3.0" fill="#0000cc" />
<rect x="246.0" y="830.0" width="1.0" height="14.0" fill="#0000cc" />
<rect x="241.5" y="838.5" width="10.0" height="4.0" fill="#fff" stroke="#0000cc" />
<rect x="257.0" y="834.0" width="1.0" height="16.0" fill="#0000cc" />
<rect x="252.0" y="834.0" width="11.0" height="10.0" fill="#0000cc" />
<rect x="267.0" y="836.0" width="1.0" height="11.0" fill="#0000cc" />
<rect x="262.5" y="836.5" width="10.0" height="9.0" fill="#fff" stroke="#0000cc" />
<rect x="277.0" y="830.0" width="1.0" height="8.0" fill="#0000cc" />
<rect x="272.0" y="835.0" width="11.0" height="1.0" fill="#0000cc" />
<rect x="287.0" y="832.0" width="1.0" height="10.0" fill="#0000cc" />
<rect x="282.5" y="832.5" width="10.0" height="3.0" fill="#fff" stroke="#0000cc" />
<rect x="297.0" y="822.0" width="1.0" height="12.0" fill="#0000cc" />
<rect x="292.5" y="824.5" width="10.0" height="7.0" fill="#fff" stroke="#0000cc" />
<rect x="307.0" y="819.0" width="1.0" height="7.0" fill="#0000cc" />
<rect x="302.0" y="823.0" width="11.0" height="2.0" fill="#0000cc" />
<rect x="318.0" y="824.0" width="1.0" height="16.0" fill="#0000cc" />
<rect x="313.0" y="824.0" width="11.0" height="7.0" fill="#0000cc" />
<rect x="328.0" y="822.0" width="1.0" height="12.0" fill="#0000cc" />
<rect x="323.5" y="822.5" width="10.0" height="8.0" fill="#fff" stroke="#0000cc" />
<rect x="338.0" y="821.0" width="1.0" height="12.0" fill="#0000cc" />
<rect x="333.0" y="821.0" width="11.0" height="9.0" fill="#0000cc" />
<rect x="348.0" y="829.0" width="1.0" height="10.0" fill="#0000cc" />
<rect x="343.0" y="830.0" width="11.0" height="2.0" fill="#0000cc" />
<rect x="358.0" y="829.0" width="1.0" height="8.0" fill="#0000cc" />
<rect x="353.0" y="831.0" width="11.0" height="4.0" fill="#0000cc" />
<rect x="369.0" y="828.0" width="1.0" height="11.0" fill="#0000cc" />
<rect x="364.0" y="834.0" width="11.0" height="2.0" fill="#0000cc" />
<rect x="379.0" y="829.0" width="1.0" height="9.0" fill="#0000cc" />
<rect x="374.5" y="834.5" width="10.0" height="3.0" fill="#fff" stroke="#0000cc" />
<rect x="389.0" y="826.0" width="1.0" height="11.0" fill="#0000cc" />
<rect x="384.5" y="827.5" width="10.0" height="8.0" fill="#fff" stroke="#0000cc" />
<rect x="399.0" y="826.0" width="1.0" height="5.0" fill="#0000cc" />
<rect x="394.0" y="827.0" width="11.0" height="2.0" fill="#0000cc" />
<rect x="409.0" y="824.0" width="1.0" height="7.0" fill="#0000cc" />
<rect x="404.5" y="824.5" width="10.0" height="4.0" fill="#fff" stroke="#0000cc" />
<rect x="419.0" y="821.0" width="1.0" height="7.0" fill="#0000cc" />
<rect x="414.0" y="824.0" width="11.0" height="2.0" fill="#0000cc" />
<rect x="430.0" y="822.0" width="1.0" height="14.0" fill="#0000cc" />
<rect x="425.0" y="826.0" width="11.0" height="8.0" fill="#0000cc" />
<rect x="440.0" y="830.0" width="1.0" height="6.0" fill="#0000cc" />
<rect x="435.5" y="830.5" width="10.0" height="4.0" fill="#fff" stroke="#0000cc" />
<rect x="450.0" y="826.0" width="1.0" height="6.0" fill="#0000cc" />
<rect x="445.5" y="826.5" width="10.0" height="4.0" fill="#fff" stroke="#0000cc" />
<rect x="460.0" y="822.0" width="1.0" height="5.0" fill="#0000cc" />
<rect x="455.5" y="822.5" width="10.0" height="4.0" fill="#fff" stroke="#0000cc" />
<rect x="470.0" y="814.0" width="1.0" height="13.0" fill="#0000cc" />
<rect x="465.5" y="816.5" width="10.0" height="6.0" fill="#fff" stroke="#0000cc" />
<rect x="480.0" y="801.0" width="1.0" height="15.0" fill="#0000cc" />
<rect x="475.5" y="803.5" width="10.0" height="12.0" fill="#fff" stroke="#0000cc" />
<rect x="491.0" y="801.0" width="1.0" height="10.0" fill="#0000cc" />
<rect x="486.0" y="802.0" width="11.0" height="2.0" fill="#0000cc" />
<rect x="501.0" y="786.0" width="1.0" height="17.0" fill="#0000cc" />
<rect x="496.5" y="788.5" width="10.0" height="14.0" fill="#fff" stroke="#0000cc" />
<rect x="511.0" y="769.0" width="1.0" height="20.0" fill="#0000cc" />
<rect x="506.5" y="774.5" width="10.0" height="13.0" fill="#fff" stroke="#0000cc" />
<rect x="521.0" y="765.0" width="1.0" height="22.0" fill="#0000cc" />
<rect x="516.5" y="767.5" width="10.0" height="3.0" fill="#fff" stroke="#0000cc" />
<rect x="531.0" y="765.0" width="1.0" height="17.0" fill="#0000cc" />
<rect x="526.0" y="768.0" width="11.0" height="5.0" fill="#0000cc" />
<rect x="541.0" y="761.0" width="1.0" height="20.0" fill="#0000cc" />
<rect x="536.5" y="762.5" width="10.0" height="12.0" fill="#fff" stroke="#0000cc" />
<rect x="552.0" y="756.0" width="1.0" height="11.0" fill="#0000cc" />
<rect x="547.0" y="761.0" width="11.0" height="3.0" fill="#0000cc" />
<rect x="562.0" y="758.0" width="1.0" height="24.0" fill="#0000cc" />
<rect x="557.0" y="763.0" width="11.0" height="18.0" fill="#0000cc" />
<rect x="572.0" y="777.0" width="1.0" height="22.0" fill="#0000cc" />
<rect x="567.0" y="779.0" width="11.0" height="2.0" fill="#0000cc" />
<rect x="582.0" y="777.0" width="1.0" height="17.0" fill="#0000cc" />
<rect x="577.0" y="780.0" width="11.0" height="2.0" fill="#0000cc" />
<rect x="592.0" y="771.0" width="1.0" height="14.0" fill="#0000cc" />
<rect x="587.5" y="772.5" width="10.0" height="9.0" fill="#fff" stroke="#0000cc" />
<rect x="602.0" y="769.0" width="1.0" height="13.0" fill="#0000cc" />
<rect x="597.0" y="773.0" width="11.0" height="2.0" fill="#0000cc" />
<rect x="613.0" y="763.0" width="1.0" height="12.0" fill="#0000cc" />
<rect x="608.5" y="770.5" width="10.0" height="2.0" fill="#fff" stroke="#0000cc" />
<rect x="623.0" y="768.0" width="1.0" height="12.0" fill="#0000cc" />
<rect x="618.0" y="771.0" width="11.0" height="1.0" fill="#0000cc" />
<rect x="633.0" y="758.0" width="1.0" height="15.0" fill="#0000cc" />
<rect x="628.5" y="759.5" width="10.0" height="12.0" fill="#fff" stroke="#0000cc" />
<rect x="643.0" y="755.0" width="1.0" height="11.0" fill="#0000cc" />
<rect x="638.0" y="758.0" width="11.0" height="1.0" fill="#0000cc" />
<rect x="653.0" y="747.0" width="1.0" height="15.0" fill="#0000cc" />
<rect x="648.5" y="756.5" width="10.0" height="2.0" fill="#fff" stroke="#0000cc" />
<rect x="663.0" y="756.0" width="1.0" height="13.0" fill="#0000cc" />
<rect x="658.0" y="757.0" width="11.0" height="3.0" fill="#0000cc" />
<rect x="674.0" y="753.0" width="1.0" height="10.0" fill="#0000cc" />
<rect x="669.0" y="758.0" width="11.0" height="1.0" fill="#0000cc" />
<rect x="684.0" y="752.0" width="1.0" height="9.0" fill="#0000cc" />
<rect x="679.5" y="753.5" width="10.0" height="5.0" fill="#fff" stroke="#0000cc" />
<rect x="694.0" y="747.0" width="1.0" height="10.0" fill="#0000cc" />
<rect x="689.5" y="749.5" width="10.0" height="3.0" fill="#fff" stroke="#0000cc" />
<rect x="704.0" y="747.0" width="1.0" height="16.0" fill="#0000cc" />
<rect x="699.0" y="749.0" width="11.0" height="11.0" fill="#0000cc" />
<rect x="714.0" y="759.0" width="1.0" height="25.0" fill="#0000cc" />
<rect x="709.0" y="761.0" width="11.0" height="7.0" fill="#0000cc" />
<rect x="725.0" y="763.0" width="1.0" height="17.0" fill="#0000cc" />
<rect x="720.5" y="765.5" width="10.0" height="3.0" fill="#fff" stroke="#0000cc" />
<rect x="735.0" y="757.0" width="1.0" height="16.0" fill="#0000cc" />
<rect x="730.0" y="765.0" width="11.0" height="2.0" fill="#0000cc" />
<rect x="745.0" y="764.0" width="1.0" height="27.0" fill="#0000cc" />
<rect x="740.0" y="765.0" width="11.0" height="13.0" fill="#0000cc" />
<rect x="755.0" y="773.0" width="1.0" height="14.0" fill="#0000cc" />
<rect x="750.0" y="777.0" width="11.0" height="7.0" fill="#0000cc" />
<rect x="765.0" y="787.0" width="1.0" height="29.0" fill="#0000cc" />
<rect x="760.0" y="787.0" width="11.0" height="17.0" fill="#0000cc" />
<rect x="775.0" y="796.0" width="1.0" height="15.0" fill="#0000cc" />
<rect x="770.0" y="803.0" width="11.0" height="1.0" fill="#0000cc" />
<rect x="786.0" y="805.0" width="1.0" height="22.0" fill="#0000cc" />
<rect x="781.0" y="807.0" width="11.0" height="9.0" fill="#0000cc" />
<rect x="796.0" y="798.0" width="1.0" height="17.0" fill="#0000cc" />
<rect x="791.5" y="800.5" width="10.0" height="14.0" fill="#fff" stroke="#0000cc" />
<rect x="806.0" y="792.0" width="1.0" height="12.0" fill="#0000cc" />
<rect x="801.5" y="794.5" width="10.0" height="6.0" fill="#fff" stroke="#0000cc" />
<rect x="816.0" y="790.0" width="1.0" height="15.0" fill="#0000cc" />
<rect x="811.0" y="793.0" width="11.0" height="12.0" fill="#0000cc" />
<rect x="826.0" y="802.0" width="1.0" height="12.0" fill="#0000cc" />
<rect x="821.0" y="803.0" width="11.0" height="3.0" fill="#0000cc" />
<rect x="836.0" y="804.0" width="1.0" height="11.0" fill="#0000cc" />
<rect x="831.0" y="806.0" width="11.0" height="3.0" fill="#0000cc" />
<rect x="847.0" y="810.0" width="1.0" height="23.0" fill="#0000cc" />
<rect x="842.0" y="811.0" width="11.0" height="19.0" fill="#0000cc" />
<rect x="857.0" y="826.0" width="1.0" height="54.0" fill="#0000cc" />
<rect x="852.0" y="827.0" width="11.0" height="36.0" fill="#0000cc" />
<rect x="867.0" y="849.0" width="1.0" height="27.0" fill="#0000cc" />
<rect x="862.0" y="856.0" width="11.0" height="7.0" fill="#0000cc" />
<rect x="877.0" y="857.0" width="1.0" height="14.0" fill="#0000cc" />
<rect x="872.5" y="858.5" width="10.0" height="4.0" fill="#fff" stroke="#0000cc" />
<rect x="887.0" y="852.0" width="1.0" height="22.0" fill="#0000cc" />
<rect x="882.0" y="853.0" width="11.0" height="17.0" fill="#0000cc" />
<rect x="897.0" y="865.0" width="1.0" height="14.0" fill="#0000cc" />
<rect x="892.0" y="870.0" width="11.0" height="4.0" fill="#0000cc" />
<rect x="908.0" y="858.0" width="1.0" height="22.0" fill="#0000cc" />
<rect x="903.5" y="866.5" width="10.0" height="10.0" fill="#fff" stroke="#0000cc" />
<rect x="918.0" y="855.0" width="1.0" height="13.0" fill="#0000cc" />
<rect x="913.5" y="858.5" width="10.0" height="7.0" fill="#fff" stroke="#0000cc" />
<rect x="928.0" y="850.0" width="1.0" height="9.0" fill="#0000cc" />
<rect x="923.5" y="850.5" width="10.0" height="7.0" fill="#fff" stroke="#0000cc" />
<rect x="938.0" y="842.0" width="1.0" height="10.0" fill="#0000cc" />
<rect x="933.5" y="845.5" width="10.0" height="5.0" fill="#fff" stroke="#0000cc" />
<rect x="948.0" y="840.0" width="1.0" height="17.0" fill="#0000cc" />
<rect x="943.5" y="840.5" width="10.0" height="6.0" fill="#fff" stroke="#0000cc" />
<rect x="958.0" y="835.0" width="1.0" height="9.0" fill="#0000cc" />
<rect x="953.0" y="839.0" width="11.0" height="2.0" fill="#0000cc" />
<rect x="969.0" y="838.0" width="1.0" height="8.0" fill="#0000cc" />
<rect x="964.0" y="839.0" width="11.0" height="5.0" fill="#0000cc" />
<rect x="979.0" y="839.0" width="1.0" height="11.0" fill="#0000cc" />
<rect x="974.0" y="843.0" width="11.0" height="2.0" fill="#0000cc" />
<rect x="989.0" y="844.0" width="1.0" height="13.0" fill="#0000cc" />
<rect x="984.0" y="844.0" width="11.0" height="9.0" fill="#0000cc" />
<rect x="999.0" y="835.0" width="1.0" height="19.0" fill="#0000cc" />
<rect x="994.5" y="838.5" width="10.0" height="14.0" fill="#fff" stroke="#0000cc" />
<rect x="1009.0" y="833.0" width="1.0" height="11.0" fill="#0000cc" />
<rect x="1004.0" y="838.0" width="11.0" height="6.0" fill="#0000cc" />
<rect x="1019.0" y="839.0" width="1.0" height="8.0" fill="#0000cc" />
<rect x="1014.0" y="842.0" width="11.0" height="2.0" fill="#0000cc" />
<rect x="1030.0" y="831.0" width="1.0" height="13.0" fill="#0000cc" />
<rect x="1025.5" y="831.5" width="10.0" height="12.0" fill="#fff" stroke="#0000cc" />
<rect x="1040.0" y="828.0" width="1.0" height="8.0" fill="#0000cc" />
<rect x="1035.0" y="831.0" width="11.0" height="1.0" fill="#0000cc" />
<rect x="1050.0" y="831.0" width="1.0" height="23.0" fill="#0000cc" />
<rect x="1045.0" y="832.0" width="11.0" height="16.0" fill="#0000cc" />
<rect x="1060.0" y="842.0" width="1.0" height="11.0" fill="#0000cc" />
<rect x="1055.0" y="847.0" width="11.0" height="6.0" fill="#0000cc" />
<rect x="1070.0" y="847.0" width="1.0" height="9.0" fill="#0000cc" />
<rect x="1065.0" y="851.0" width="11.0" height="2.0" fill="#0000cc" />
<polyline points="125.4,813.1 135.6,817.0 145.7,820.3 155.9,822.9 166.1,825.7 176.2,830.3 186.4,830.8 196.6,831.3 206.8,831.3 216.9,837.5 227.1,840.9 237.3,844.0 247.4,845.9 257.6,845.9 267.8,845.9 278.0,845.9 288.1,845.9 298.3,845.9 308.5,845.1 318.6,845.1 328.8,845.1 339.0,845.1 349.2,845.1 359.3,845.1 369.5,845.1 379.7,845.1 389.8,845.1 400.0,845.1 410.2,845.1 420.4,845.1 430.5,845.1 440.7,845.1 450.9,844.3 461.0,839.8 471.2,834.1 481.4,826.8 491.6,824.6 501.7,817.3 511.9,808.8 522.1,805.2 532.2,802.6 542.4,800.7 552.6,797.0 562.8,797.0 572.9,797.0 583.1,796.7 593.3,796.7 603.4,796.7 613.6,796.7 623.8,796.7 634.0,795.9 644.1,795.0 654.3,790.8 664.5,790.8 674.6,790.8 684.8,790.8 695.0,790.8 705.2,788.6 715.3,786.3 725.5,786.0 735.7,780.7 745.8,777.9 756.0,773.9 766.2,780.7 776.4,780.7 786.5,786.0 796.7,786.0 806.9,786.0 817.0,786.0 827.2,786.0 837.4,786.0 847.6,789.1 857.7,812.8 867.9,812.8 878.1,812.8 888.2,812.8 898.4,812.8 908.6,812.8 918.8,812.8 928.9,812.8 939.1,812.8 949.3,812.8 959.4,812.8 969.6,817.5 979.8,817.5 990.0,817.5 1000.1,821.2 1010.3,825.7 1020.5,832.7 1030.6,834.4 1040.8,834.4 1051.0,834.4 1061.2,834.4 1071.3,834.4" fill="none" stroke="#66cc99" stroke-width="1" />
<polyline points="13.5,820.6 23.7,821.2 33.8,821.2 44.0,827.4 54.2,830.8 64.4,833.9 74.5,835.8 84.7,835.3 94.9,835.3 105.0,835.3 115.2,838.1 125.4,842.6 135.6,842.6 145.7,842.6 155.9,842.6 166.1,843.1 176.2,850.7 186.4,856.9 196.6,858.3 206.8,862.0 216.9,857.5 227.1,855.5 237.3,851.3 247.4,850.7 257.6,850.7 267.8,850.7 278.0,849.9 288.1,845.4 298.3,838.4 308.5,835.5 318.6,833.6 328.8,833.6 339.0,833.6 349.2,831.9 359.3,829.4 369.5,829.4 379.7,828.2 389.8,828.2 400.0,829.6 410.2,829.4 420.4,829.4 430.5,829.4 440.7,829.4 450.9,829.4 461.0,828.5 471.2,824.6 481.4,817.8 491.6,817.5 501.7,810.2 511.9,801.8 522.1,799.8 532.2,797.6 542.4,793.4 552.6,790.5 562.8,785.2 572.9,782.4 583.1,778.4 593.3,776.5 603.4,776.5 613.6,776.5 623.8,776.5 634.0,776.5 644.1,775.9 654.3,772.0 664.5,769.7 674.6,765.2 684.8,763.5 695.0,762.7 705.2,762.7 715.3,764.7 725.5,764.7 735.7,764.7 745.8,768.0 756.0,768.0 766.2,780.7 776.4,780.7 786.5,786.0 796.7,790.8 806.9,790.8 817.0,790.8 827.2,794.5 837.4,799.0 847.6,809.1 857.7,834.4 867.9,834.4 878.1,834.4 888.2,834.4 898.4,834.4 908.6,840.0 918.8,841.2 928.9,844.3 939.1,852.4 949.3,859.2 959.4,856.9 969.6,856.9 979.8,856.9 990.0,856.9 1000.1,850.7 1010.3,845.4 1020.5,844.3 1030.6,843.1 1040.8,841.7 1051.0,841.7 1061.2,841.7 1071.3,841.7" fill="none" stroke="#ffc000" stroke-width="1" />
<polyline points="13.5,835.5 23.7,835.0 33.8,831.6 44.0,823.2 54.2,823.7 64.4,829.4 74.5,822.0 84.7,828.8 94.9,831.0 105.0,833.9 115.2,835.0 125.4,833.9 135.6,826.5 145.7,827.7 155.9,823.2 166.1,824.9 176.2,832.7 186.4,829.4 196.6,826.0 206.8,821.5 216.9,815.9 227.1,802.4 237.3,802.4 247.4,787.2 257.6,773.1 267.8,766.4 278.0,771.4 288.1,761.9 298.3,762.4 308.5,779.9 318.6,779.9 328.8,781.0 339.0,772.0 349.2,773.1 359.3,769.7 369.5,770.3 379.7,759.0 389.8,757.9 400.0,755.7 410.2,758.5 420.4,757.9 430.5,752.3 440.7,748.9 450.9,759.0 461.0,766.9 471.2,764.7 481.4,765.8 491.6,777.0 501.7,782.7 511.9,802.4 522.1,802.9 532.2,814.7 542.4,799.5 552.6,793.4 562.8,803.5 572.9,804.6 583.1,808.0 593.3,828.8 603.4,862.0 613.6,861.4 623.8,857.5 634.0,868.2 644.1,872.7 654.3,865.9 664.5,857.5 674.6,849.6 684.8,844.5 695.0,839.5 705.2,839.5 715.3,842.9 725.5,844.0 735.7,851.9 745.8,837.8 756.0,842.3 766.2,842.9 776.4,831.0 786.5,831.0 796.7,846.8 806.9,851.3 817.0,851.3" fill="none" stroke="#00ccff" stroke-width="1" />
<polyline points="654.3,816.7 664.5,821.3 674.6,825.4 684.8,826.7 695.0,831.6 705.2,831.6 715.3,831.6 725.5,831.3 735.7,831.3 745.8,836.4 756.0,836.1 766.2,828.8 776.4,820.4 786.5,818.4 796.7,818.4 806.9,816.4 817.0,813.9 827.2,813.9 837.4,813.9 847.6,813.9 857.7,813.9 867.9,813.9 878.1,813.9 888.2,813.9 898.4,813.9 908.6,813.3 918.8,809.4 928.9,809.4 939.1,809.4 949.3,809.4 959.4,809.4 969.6,809.4 979.8,808.5 990.0,804.0 1000.1,800.7 1010.3,799.8 1020.5,797.9 1030.6,797.9 1040.8,797.9 1051.0,796.2 1061.2,793.6 1071.3,793.6 1081.5,792.5 1091.7,792.5 1101.8,792.5 1112.0,792.2 1122.2,812.8 1132.4,812.8 1142.5,812.8 1152.7,812.8 1162.9,812.8 1173.0,812.8 1183.2,812.8 1193.4,812.8 1203.6,812.8 1213.7,812.8 1223.9,812.8 1234.1,812.8 1244.2,812.8 1254.4,812.8 1264.6,812.8 1274.8,812.8 1284.9,812.8 1295.1,812.8 1305.3,812.8 1315.4,812.8 1325.6,812.8 1335.8,812.8" fill="none" stroke="#0099ff" stroke-width="1" />
<polyline points="389.8,827.8 400.0,829.8 410.2,831.4 420.4,832.7 430.5,834.4 440.7,840.5 450.9,843.9 461.0,844.8 471.2,846.6 481.4,847.5 491.6,848.2 501.7,847.6 511.9,848.3 522.1,848.3 532.2,848.3 542.4,847.9 552.6,845.7 562.8,842.1 572.9,840.3 583.1,839.3 593.3,839.3 603.4,839.3 613.6,838.5 623.8,837.2 634.0,837.2 644.1,836.7 654.3,836.7 664.5,837.4 674.6,837.2 684.8,837.2 695.0,837.2 705.2,837.2 715.3,836.8 725.5,834.1 735.7,829.4 745.8,822.3 756.0,821.1 766.2,813.7 776.4,805.3 786.5,802.5 796.7,800.1 806.9,797.0 817.0,793.8 827.2,791.1 837.4,789.7 847.6,787.6 857.7,786.6 867.9,786.6 878.1,786.6 888.2,786.6 898.4,786.2 908.6,785.5 918.8,781.4 928.9,780.3 939.1,778.0 949.3,777.2 959.4,776.8 969.6,775.6 979.8,775.5 990.0,775.4 1000.1,772.7 1010.3,773.0 1020.5,771.0 1030.6,780.7 1040.8,780.7 1051.0,786.0 1061.2,788.4 1071.3,788.4 1081.5,788.4 1091.7,790.3 1101.8,792.5 1112.0,799.1 1122.2,823.6 1132.4,823.6 1142.5,823.6 1152.7,823.6 1162.9,823.6 1173.0,826.4 1183.2,827.0 1193.4,828.5 1203.6,832.6 1213.7,836.0 1223.9,834.8 1234.1,837.2 1244.2,837.2 1254.4,837.2 1264.6,836.0 1274.8,835.5 1284.9,838.5 1295.1,838.8 1305.3,838.1 1315.4,838.1 1325.6,838.1 1335.8,838.1" fill="none" stroke="#ff00ff" stroke-width="1" />
<rect x="8.5" y="931.5" width="10.0" height="10.0" fill="#99ccff" stroke="#0000cc" />
<rect x="18.5" y="933.5" width="10.0" height="8.0" fill="#99ccff" stroke="#0000cc" />
<rect x="28.5" y="934.5" width="10.0" height="7.0" fill="#99ccff" stroke="#0000cc" />
<rect x="38.5" y="930.5" width="10.0" height="11.0" fill="#99ccff" stroke="#0000cc" />
<rect x="48.5" y="929.5" width="10.0" height="12.0" fill="#99ccff" stroke="#0000cc" />
<rect x="58.5" y="931.5" width="11.0" height="10.0" fill="#99ccff" stroke="#0000cc" />
<rect x="69.5" y="933.5" width="10.0" height="8.0" fill="#99ccff" stroke="#0000cc" />
<rect x="79.5" y="931.5" width="10.0" height="10.0" fill="#99ccff" stroke="#0000cc" />
<rect x="89.5" y="927.5" width="10.0" height="14.0" fill="#99ccff" stroke="#0000cc" />
<rect x="99.5" y="931.5" width="10.0" height="10.0" fill="#99ccff" stroke="#0000cc" />
<rect x="109.5" y="931.5" width="10.0" height="10.0" fill="#99ccff" stroke="#0000cc" />
<rect x="119.5" y="928.5" width="11.0" height="13.0" fill="#99ccff" stroke="#0000cc" />
<rect x="130.5" y="930.5" width="10.0" height="11.0" fill="#99ccff" stroke="#0000cc" />
<rect x="140.5" y="932.5" width="10.0" height="9.0" fill="#99ccff" stroke="#0000cc" />
<rect x="150.5" y="932.5" width="10.0" height="9.0" fill="#99ccff" stroke="#0000cc" />
<rect x="160.5" y="931.5" width="10.0" height="10.0" fill="#99ccff" stroke="#0000cc" />
<rect x="170.5" y="930.5" width="10.0" height="11.0" fill="#99ccff" stroke="#0000cc" />
<rect x="180.5" y="929.5" width="11.0" height="12.0" fill="#99ccff" stroke="#0000cc" />
<rect x="191.5" y="929.5" width="10.0" height="12.0" fill="#99ccff" stroke="#0000cc" />
<rect x="201.5" y="928.5" width="10.0" height="13.0" fill="#99ccff" stroke="#0000cc" />
<rect x="211.5" y="924.5" width="10.0" height="17.0" fill="#99ccff" stroke="#0000cc" />
<rect x="221.5" y="927.5" width="10.0" height="14.0" fill="#99ccff" stroke="#0000cc" />
<rect x="231.5" y="927.5" width="10.0" height="14.0" fill="#99ccff" stroke="#0000cc" />
<rect x="241.5" y="926.5" width="11.0" height="15.0" fill="#99ccff" stroke="#0000cc" />
<rect x="252.5" y="928.5" width="10.0" height="13.0" fill="#99ccff" stroke="#0000cc" />
<rect x="262.5" y="930.5" width="10.0" height="11.0" fill="#99ccff" stroke="#0000cc" />
<rect x="272.5" y="929.5" width="10.0" height="12.0" fill="#99ccff" stroke="#0000cc" />
<rect x="282.5" y="928.5" width="10.0" height="13.0" fill="#99ccff" stroke="#0000cc" />
<rect x="292.5" y="926.5" width="10.0" height="15.0" fill="#99ccff" stroke="#0000cc" />
<rect x="302.5" y="925.5" width="11.0" height="16.0" fill="#99ccff" stroke="#0000cc" />
<rect x="313.5" y="924.5" width="10.0" height="17.0" fill="#99ccff" stroke="#0000cc" />
<rect x="323.5" y="926.5" width="10.0" height="15.0" fill="#99ccff" stroke="#0000cc" />
<rect x="333.5" y="927.5" width="10.0" height="14.0" fill="#99ccff" stroke="#0000cc" />
<rect x="343.5" y="928.5" width="10.0" height="13.0" fill="#99ccff" stroke="#0000cc" />
<rect x="353.5" y="929.5" width="11.0" height="12.0" fill="#99ccff" stroke="#0000cc" />
<rect x="364.5" y="927.5" width="10.0" height="14.0" fill="#99ccff" stroke="#0000cc" />
<rect x="374.5" y="928.5" width="10.0" height="13.0" fill="#99ccff" stroke="#0000cc" />
<rect x="384.5" y="928.5" width="10.0" height="13.0" fill="#99ccff" stroke="#0000cc" />
<rect x="394.5" y="929.5" width="10.0" height="12.0" fill="#99ccff" stroke="#0000cc" />
<rect x="404.5" y="929.5" width="10.0" height="12.0" fill="#99ccff" stroke="#0000cc" />
<rect x="414.5" y="927.5" width="11.0" height="14.0" fill="#99ccff" stroke="#0000cc" />
<rect x="425.5" y="921.5" width="10.0" height="20.0" fill="#99ccff" stroke="#0000cc" />
<rect x="435.5" y="928.5" width="10.0" height="13.0" fill="#99ccff" stroke="#0000cc" />
<rect x="445.5" y="928.5" width="10.0" height="13.0" fill="#99ccff" stroke="#0000cc" />
<rect x="455.5" y="928.5" width="10.0" height="13.0" fill="#99ccff" stroke="#0000cc" />
<rect x="465.5" y="920.5" width="10.0" height="21.0" fill="#99ccff" stroke="#0000cc" />
<rect x="475.5" y="923.5" width="11.0" height="18.0" fill="#99ccff" stroke="#0000cc" />
<rect x="486.5" y="916.5" width="10.0" height="25.0" fill="#99ccff" stroke="#0000cc" />
<rect x="496.5" y="920.5" width="10.0" height="21.0" fill="#99ccff" stroke="#0000cc" />
<rect x="506.5" y="911.5" width="10.0" height="30.0" fill="#99ccff" stroke="#0000cc" />
<rect x="516.5" y="911.5" width="10.0" height="30.0" fill="#99ccff" stroke="#0000cc" />
<rect x="526.5" y="913.5" width="10.0" height="28.0" fill="#99ccff" stroke="#0000cc" />
<rect x="536.5" y="917.5" width="11.0" height="24.0" fill="#99ccff" stroke="#0000cc" />
<rect x="547.5" y="914.5" width="10.0" height="27.0" fill="#99ccff" stroke="#0000cc" />
<rect x="557.5" y="911.5" width="10.0" height="30.0" fill="#99ccff" stroke="#0000cc" />
<rect x="567.5" y="907.5" width="10.0" height="34.0" fill="#99ccff" stroke="#0000cc" />
<rect x="577.5" y="915.5" width="10.0" height="26.0" fill="#99ccff" stroke="#0000cc" />
<rect x="587.5" y="916.5" width="10.0" height="25.0" fill="#99ccff" stroke="#0000cc" />
<rect x="597.5" y="917.5" width="11.0" height="24.0" fill="#99ccff" stroke="#0000cc" />
<rect x="608.5" y="917.5" width="10.0" height="24.0" fill="#99ccff" stroke="#0000cc" />
<rect x="618.5" y="916.5" width="10.0" height="25.0" fill="#99ccff" stroke="#0000cc" />
<rect x="628.5" y="921.5" width="10.0" height="20.0" fill="#99ccff" stroke="#0000cc" />
<rect x="638.5" y="915.5" width="10.0" height="26.0" fill="#99ccff" stroke="#0000cc" />
<rect x="648.5" y="912.5" width="10.0" height="29.0" fill="#99ccff" stroke="#0000cc" />
<rect x="658.5" y="906.5" width="11.0" height="35.0" fill="#99ccff" stroke="#0000cc" />
<rect x="669.5" y="913.5" width="10.0" height="28.0" fill="#99ccff" stroke="#0000cc" />
<rect x="679.5" y="911.5" width="10.0" height="30.0" fill="#99ccff" stroke="#0000cc" />
<rect x="689.5" y="915.5" width="10.0" height="26.0" fill="#99ccff" stroke="#0000cc" />
<rect x="699.5" y="913.5" width="10.0" height="28.0" fill="#99ccff" stroke="#0000cc" />
<rect x="709.5" y="892.5" width="11.0" height="49.0" fill="#99ccff" stroke="#0000cc" />
<rect x="720.5" y="913.5" width="10.0" height="28.0" fill="#99ccff" stroke="#0000cc" />
<rect x="730.5" y="909.5" width="10.0" height="32.0" fill="#99ccff" stroke="#0000cc" />
<rect x="740.5" y="900.5" width="10.0" height="41.0" fill="#99ccff" stroke="#0000cc" />
<rect x="750.5" y="917.5" width="10.0" height="24.0" fill="#99ccff" stroke="#0000cc" />
<rect x="760.5" y="901.5" width="10.0" height="40.0" fill="#99ccff" stroke="#0000cc" />
<rect x="770.5" y="908.5" width="11.0" height="33.0" fill="#99ccff" stroke="#0000cc" />
<rect x="781.5" y="906.5" width="10.0" height="35.0" fill="#99ccff" stroke="#0000cc" />
<rect x="791.5" y="911.5" width="10.0" height="30.0" fill="#99ccff" stroke="#0000cc" />
<rect x="801.5" y="909.5" width="10.0" height="32.0" fill="#99ccff" stroke="#0000cc" />
<rect x="811.5" y="911.5" width="10.0" height="30.0" fill="#99ccff" stroke="#0000cc" />
<rect x="821.5" y="905.5" width="10.0" height="36.0" fill="#99ccff" stroke="#0000cc" />
<rect x="831.5" y="913.5" width="11.0" height="28.0" fill="#99ccff" stroke="#0000cc" />
<rect x="842.5" y="906.5" width="10.0" height="35.0" fill="#99ccff" stroke="#0000cc" />
<rect x="852.5" y="879.5" width="10.0" height="62.0" fill="#99ccff" stroke="#0000cc" />
<rect x="862.5" y="909.5" width="10.0" height="32.0" fill="#99ccff" stroke="#0000cc" />
<rect x="872.5" y="917.5" width="10.0" height="24.0" fill="#99ccff" stroke="#0000cc" />
<rect x="882.5" y="918.5" width="10.0" height="23.0" fill="#99ccff" stroke="#0000cc" />
<rect x="892.5" y="917.5" width="11.0" height="24.0" fill="#99ccff" stroke="#0000cc" />
<rect x="903.5" y="914.5" width="10.0" height="27.0" fill="#99ccff" stroke="#0000cc" />
<rect x="913.5" y="915.5" width="10.0" height="26.0" fill="#99ccff" stroke="#0000cc" />
<rect x="923.5" y="923.5" width="10.0" height="18.0" fill="#99ccff" stroke="#0000cc" />
<rect x="933.5" y="919.5" width="10.0" height="22.0" fill="#99ccff" stroke="#0000cc" />
<rect x="943.5" y="917.5" width="10.0" height="24.0" fill="#99ccff" stroke="#0000cc" />
<rect x="953.5" y="916.5" width="11.0" height="25.0" fill="#99ccff" stroke="#0000cc" />
<rect x="964.5" y="920.5" width="10.0" height="21.0" fill="#99ccff" stroke="#0000cc" />
<rect x="974.5" y="920.5" width="10.0" height="21.0" fill="#99ccff" stroke="#0000cc" />
<rect x="984.5" y="920.5" width="10.0" height="21.0" fill="#99ccff" stroke="#0000cc" />
<rect x="994.5" y="920.5" width="10.0" height="21.0" fill="#99ccff" stroke="#0000cc" />
<rect x="1004.5" y="917.5" width="10.0" height="24.0" fill="#99ccff" stroke="#0000cc" />
<rect x="1014.5" y="921.5" width="11.0" height="20.0" fill="#99ccff" stroke="#0000cc" />
<rect x="1025.5" y="923.5" width="10.0" height="18.0" fill="#99ccff" stroke="#0000cc" />
<rect x="1035.5" y="920.5" width="10.0" height="21.0" fill="#99ccff" stroke="#0000cc" />
<rect x="1045.5" y="911.5" width="10.0" height="30.0" fill="#99ccff" stroke="#0000cc" />
<rect x="1055.5" y="918.5" width="10.0" height="23.0" fill="#99ccff" stroke="#0000cc" />
<rect x="1065.5" y="929.5" width="11.0" height="12.0" fill="#99ccff" stroke="#0000cc" />
<rect x="8.5" y="970.5" width="10.0" height="5.0" fill="#ffff99" stroke="#999900" />
<rect x="18.5" y="970.5" width="10.0" height="4.0" fill="#ffff99" stroke="#999900" />
<rect x="28.5" y="970.5" width="10.0" height="4.0" fill="#ffff99" stroke="#999900" />
<rect x="38.5" y="970.5" width="10.0" height="2.0" fill="#ffff99" stroke="#999900" />
<rect x="58.5" y="969.5" width="11.0" height="1.0" fill="#ffff99" stroke="#999900" />
<rect x="69.5" y="967.5" width="10.0" height="3.0" fill="#ffff99" stroke="#999900" />
<rect x="79.5" y="967.5" width="10.0" height="3.0" fill="#ffff99" stroke="#999900" />
<rect x="89.5" y="968.5" width="10.0" height="2.0" fill="#ffff99" stroke="#999900" />
<rect x="99.5" y="969.5" width="10.0" height="1.0" fill="#ffff99" stroke="#999900" />
<rect x="140.5" y="970.5" width="10.0" height="1.0" fill="#ffff99" stroke="#999900" />
<rect x="150.5" y="970.5" width="10.0" height="1.0" fill="#ffff99" stroke="#999900" />
<rect x="160.5" y="970.5" width="10.0" height="1.0" fill="#ffff99" stroke="#999900" />
<rect x="170.5" y="970.5" width="10.0" height="1.0" fill="#ffff99" stroke="#999900" />
<rect x="201.5" y="969.5" width="10.0" height="1.0" fill="#ffff99" stroke="#999900" />
<rect x="211.5" y="967.5" width="10.0" height="3.0" fill="#ffff99" stroke="#999900" />
<rect x="221.5" y="965.5" width="10.0" height="5.0" fill="#ffff99" stroke="#999900" />
<rect x="231.5" y="964.5" width="10.0" height="6.0" fill="#ffff99" stroke="#999900" />
<rect x="241.5" y="963.5" width="11.0" height="7.0" fill="#ffff99" stroke="#999900" />
<rect x="252.5" y="963.5" width="10.0" height="7.0" fill="#ffff99" stroke="#999900" />
<rect x="262.5" y="963.5" width="10.0" height="7.0" fill="#ffff99" stroke="#999900" />
<rect x="272.5" y="963.5" width="10.0" height="7.0" fill="#ffff99" stroke="#999900" />
<rect x="282.5" y="963.5" width="10.0" height="7.0" fill="#ffff99" stroke="#999900" />
<rect x="292.5" y="963.5" width="10.0" height="7.0" fill="#ffff99" stroke="#999900" />
<rect x="302.5" y="964.5" width="11.0" height="6.0" fill="#ffff99" stroke="#999900" />
<rect x="313.5" y="965.5" width="10.0" height="5.0" fill="#ffff99" stroke="#999900" />
<rect x="323.5" y="965.5" width="10.0" height="5.0" fill="#ffff99" stroke="#999900" />
<rect x="333.5" y="966.5" width="10.0" height="4.0" fill="#ffff99" stroke="#999900" />
<rect x="343.5" y="968.5" width="10.0" height="2.0" fill="#ffff99" stroke="#999900" />
<rect x="353.5" y="969.5" width="11.0" height="1.0" fill="#ffff99" stroke="#999900" />
<rect x="465.5" y="969.5" width="10.0" height="1.0" fill="#ffff99" stroke="#999900" />
<rect x="475.5" y="968.5" width="11.0" height="2.0" fill="#ffff99" stroke="#999900" />
<rect x="486.5" y="967.5" width="10.0" height="3.0" fill="#ffff99" stroke="#999900" />
<rect x="496.5" y="965.5" width="10.0" height="5.0" fill="#ffff99" stroke="#999900" />
<rect x="506.5" y="963.5" width="10.0" height="7.0" fill="#ffff99" stroke="#999900" />
<rect x="516.5" y="961.5" width="10.0" height="9.0" fill="#ffff99" stroke="#999900" />
<rect x="526.5" y="961.5" width="10.0" height="9.0" fill="#ffff99" stroke="#999900" />
<rect x="536.5" y="960.5" width="11.0" height="10.0" fill="#ffff99" stroke="#999900" />
<rect x="547.5" y="962.5" width="10.0" height="8.0" fill="#ffff99" stroke="#999900" />
<rect x="557.5" y="965.5" width="10.0" height="5.0" fill="#ffff99" stroke="#999900" />
<rect x="567.5" y="967.5" width="10.0" height="3.0" fill="#ffff99" stroke="#999900" />
<rect x="597.5" y="970.5" width="11.0" height="1.0" fill="#ffff99" stroke="#999900" />
<rect x="608.5" y="970.5" width="10.0" height="1.0" fill="#ffff99" stroke="#999900" />
<rect x="618.5" y="970.5" width="10.0" height="1.0" fill="#ffff99" stroke="#999900" />
<rect x="628.5" y="970.5" width="10.0" height="1.0" fill="#ffff99" stroke="#999900" />
<rect x="709.5" y="970.5" width="11.0" height="1.0" fill="#ffff99" stroke="#999900" />
<rect x="720.5" y="970.5" width="10.0" height="3.0" fill="#ffff99" stroke="#999900" />
<rect x="730.5" y="970.5" width="10.0" height="4.0" fill="#ffff99" stroke="#999900" />
<rect x="740.5" y="970.5" width="10.0" height="5.0" fill="#ffff99" stroke="#999900" />
<rect x="750.5" y="970.5" width="10.0" height="6.0" fill="#ffff99" stroke="#999900" />
<rect x="760.5" y="970.5" width="10.0" height="9.0" fill="#ffff99" stroke="#999900" />
<rect x="770.5" y="970.5" width="11.0" height="10.0" fill="#ffff99" stroke="#999900" />
<rect x="781.5" y="970.5" width="10.0" height="11.0" fill="#ffff99" stroke="#999900" />
<rect x="791.5" y="970.5" width="10.0" height="10.0" fill="#ffff99" stroke="#999900" />
<rect x="801.5" y="970.5" width="10.0" height="9.0" fill="#ffff99" stroke="#999900" />
<rect x="811.5" y="970.5" width="10.0" height="7.0" fill="#ffff99" stroke="#999900" />
<rect x="821.5" y="970.5" width="10.0" height="6.0" fill="#ffff99" stroke="#999900" />
<rect x="831.5" y="970.5" width="11.0" height="5.0" fill="#ffff99" stroke="#999900" />
<rect x="842.5" y="970.5" width="10.0" height="6.0" fill="#ffff99" stroke="#999900" />
<rect x="852.5" y="970.5" width="10.0" height="9.0" fill="#ffff99" stroke="#999900" />
<rect x="862.5" y="970.5" width="10.0" height="11.0" fill="#ffff99" stroke="#999900" />
<rect x="872.5" y="970.5" width="10.0" height="11.0" fill="#ffff99" stroke="#999900" />
<rect x="882.5" y="970.5" width="10.0" height="11.0" fill="#ffff99" stroke="#999900" />
<rect x="892.5" y="970.5" width="11.0" height="11.0" fill="#ffff99" stroke="#999900" />
<rect x="903.5" y="970.5" width="10.0" height="10.0" fill="#ffff99" stroke="#999900" />
<rect x="913.5" y="970.5" width="10.0" height="7.0" fill="#ffff99" stroke="#999900" />
<rect x="923.5" y="970.5" width="10.0" height="3.0" fill="#ffff99" stroke="#999900" />
<rect x="943.5" y="968.5" width="10.0" height="2.0" fill="#ffff99" stroke="#999900" />
<rect x="953.5" y="965.5" width="11.0" height="5.0" fill="#ffff99" stroke="#999900" />
<rect x="964.5" y="964.5" width="10.0" height="6.0" fill="#ffff99" stroke="#999900" />
<rect x="974.5" y="964.5" width="10.0" height="6.0" fill="#ffff99" stroke="#999900" />
<rect x="984.5" y="965.5" width="10.0" height="5.0" fill="#ffff99" stroke="#999900" />
<rect x="994.5" y="964.5" width="10.0" height="6.0" fill="#ffff99" stroke="#999900" />
<rect x="1004.5" y="965.5" width="10.0" height="5.0" fill="#ffff99" stroke="#999900" />
<rect x="1014.5" y="965.5" width="11.0" height="5.0" fill="#ffff99" stroke="#999900" />
<rect x="1025.5" y="965.5" width="10.0" height="5.0" fill="#ffff99" stroke="#999900" />
<rect x="1035.5" y="964.5" width="10.0" height="6.0" fill="#ffff99" stroke="#999900" />
<rect x="1045.5" y="966.5" width="10.0" height="4.0" fill="#ffff99" stroke="#999900" />
<rect x="1055.5" y="967.5" width="10.0" height="3.0" fill="#ffff99" stroke="#999900" />
<rect x="1065.5" y="968.5" width="11.0" height="2.0" fill="#ffff99" stroke="#999900" />
</g>
<rect x="7.0" y="1067.0" width="1150.0" height="1.0" fill="#000" />
<g clip-path="url(#clip3b)">
<polyline points="13.5,988.0 28.6,989.7 48.8,991.4 58.9,992.7 78.3,992.7 80.8,991.7 99.3,991.4 107.8,990.5 168.4,990.0 190.3,990.5 220.6,990.5 225.6,989.3 230.0,989.3 236.8,988.0 253.7,985.8 270.5,983.8 287.4,980.4 304.2,977.0 321.0,974.0 337.9,971.7 353.0,970.0 363.1,969.5 366.5,969.6 383.3,969.3 385.9,968.3 423.7,968.3 450.0,968.3 456.8,967.8 473.7,966.9 490.5,965.6 504.0,964.8 515.8,962.4 532.6,959.9 549.4,956.8 561.2,954.8 574.7,953.1 579.8,952.1 596.6,951.8 598.3,950.9 637.8,950.9 639.5,951.8 670.0,951.8 698.7,951.8 708.8,952.1 729.0,953.0 740.8,954.8 754.3,956.0 767.8,957.3 781.2,960.2 794.7,963.2 808.2,966.4 821.6,970.0 835.1,972.8 848.6,975.4 862.1,978.7 875.5,981.8 890.0,984.6 891.9,985.5 903.7,988.8 920.5,993.0 932.3,994.7 944.1,995.6 972.7,995.6 987.9,993.0 1004.7,990.5 1021.5,988.0 1038.4,985.1 1055.2,982.9 1070.4,982.9" fill="none" stroke="#0099ff" stroke-width="1.6" />
<polyline points="13.5,994.0 28.6,994.4 37.9,994.4 48.8,993.0 58.9,991.4 72.4,989.3 107.8,989.2 111.1,990.2 168.4,990.5 171.7,991.7 190.3,991.7 198.7,990.2 210.5,988.0 220.6,985.5 230.0,982.9 240.2,980.9 253.7,978.7 270.5,975.9 287.4,972.8 304.2,970.0 314.3,968.6 329.4,968.1 363.1,968.3 366.5,969.1 383.3,969.0 385.9,967.8 403.5,967.4 405.2,966.6 423.7,966.6 425.4,967.8 450.0,967.8 455.2,966.9 465.3,965.8 482.1,963.1 498.9,959.4 515.8,955.5 532.6,951.8 547.8,948.9 566.3,948.9 574.7,950.4 579.8,951.8 618.5,952.1 620.2,953.0 626.9,953.0 628.6,951.8 670.0,951.8 698.7,951.8 708.8,953.5 718.9,955.2 730.7,956.8 744.2,959.9 754.3,962.7 764.4,966.1 776.2,969.8 786.3,973.7 794.7,975.0 811.5,975.9 821.6,977.4 831.7,978.2 838.5,979.2 846.9,981.8 857.0,986.3 867.1,990.2 877.2,993.0 890.0,996.4 891.9,997.8 896.9,998.9 919.7,998.9 937.4,996.1 954.2,991.4 974.4,988.0 991.2,987.1 1004.7,984.6 1021.5,983.4 1035.0,980.1 1070.4,980.1" fill="none" stroke="#ff3300" stroke-width="1.6" />
<polyline points="13.5,1050.8 23.6,1052.0 33.7,1059.0 43.8,1053.2 53.9,1047.8 64.0,1041.9 74.1,1036.0 84.2,1036.0 94.3,1043.6 104.4,1046.4 114.5,1047.8 129.7,1047.8 136.4,1049.4 146.5,1055.3 156.6,1059.5 165.0,1061.2 175.1,1058.7 185.2,1057.9 195.3,1050.3 205.4,1042.7 215.5,1035.1 220.6,1034.0 230.0,1031.8 236.8,1027.6 246.9,1025.0 257.0,1030.1 267.1,1022.8 277.2,1022.0 284.0,1022.8 300.8,1022.8 309.2,1024.2 319.3,1034.0 327.8,1030.1 338.7,1036.8 348.0,1034.3 359.8,1040.7 371.5,1042.4 385.0,1043.9 396.8,1044.9 410.3,1037.7 412.0,1039.3 418.7,1043.6 428.8,1044.7 438.9,1040.2 450.0,1034.6 458.5,1031.8 470.3,1029.7 482.1,1026.7 495.6,1024.2 510.7,1021.7 519.1,1016.6 524.2,1016.6 530.9,1018.8 544.4,1019.1 552.8,1020.8 562.9,1030.1 571.3,1032.3 578.1,1033.5 584.8,1033.5 593.2,1035.5 603.3,1040.2 613.4,1043.9 621.8,1041.5 628.6,1039.8 637.0,1039.7 643.7,1038.5 653.0,1019.6 658.9,1022.5 663.9,1023.7 670.0,1022.5 673.5,1021.7 683.6,1022.8 694.5,1020.8 703.8,1033.5 713.9,1039.3 724.0,1044.4 732.4,1046.1 744.2,1052.0 754.3,1054.5 764.4,1058.7 776.2,1062.9 786.3,1064.9 796.4,1054.5 806.5,1051.1 816.6,1053.7 826.7,1053.7 836.0,1052.0 846.9,1054.2 855.3,1056.2 867.1,1055.3 877.2,1052.8 883.9,1058.7 890.0,1062.1 893.6,1063.8 897.8,1064.9 908.7,1060.4 918.8,1056.2 928.9,1052.8 939.0,1046.1 948.3,1030.1 960.9,1030.1 969.3,1033.8 979.4,1026.7 989.5,1030.1 999.7,1028.4 1009.8,1034.3 1019.9,1036.8 1030.0,1034.0 1040.1,1036.0 1050.2,1044.7 1070.4,1044.7" fill="none" stroke="#006600" stroke-width="1.6" />
<polyline points="13.5,1057.9 23.6,1053.2 33.7,1052.8 43.8,1048.6 52.2,1043.6 58.1,1036.8 64.0,1029.2 74.1,1027.1 84.2,1030.9 94.3,1042.7 104.4,1056.2 114.5,1061.6 124.6,1062.9 134.7,1059.5 151.5,1059.0 161.6,1060.9 171.7,1062.9 181.8,1062.1 192.0,1057.9 198.7,1052.5 205.4,1042.7 215.5,1029.2 225.6,1021.3 230.0,1022.5 236.8,1023.7 246.9,1023.7 258.7,1030.1 277.2,1030.9 287.4,1025.9 295.8,1022.5 307.6,1022.2 317.7,1026.7 327.8,1028.4 337.9,1033.5 348.0,1036.8 358.1,1046.9 368.2,1053.2 378.3,1055.8 388.4,1050.3 398.5,1041.0 408.6,1026.7 418.7,1023.3 428.8,1032.6 438.9,1041.0 450.0,1045.2 456.8,1036.0 465.3,1027.6 472.0,1022.2 480.4,1018.8 493.9,1018.8 502.3,1017.1 510.7,1018.8 520.8,1017.8 529.2,1019.1 544.4,1019.1 552.8,1021.7 562.9,1030.9 573.0,1040.7 583.1,1049.1 589.9,1044.4 598.3,1041.5 606.7,1037.7 615.1,1034.3 623.5,1032.3 633.6,1025.9 643.7,1021.2 650.5,1021.7 660.6,1026.7 670.0,1030.9 673.5,1032.1 684.4,1031.8 694.5,1026.7 703.8,1030.9 713.9,1037.7 724.0,1042.4 734.1,1042.7 744.2,1045.7 754.3,1051.1 764.4,1055.3 774.5,1056.5 784.6,1057.9 793.0,1054.5 804.8,1047.8 814.9,1041.0 826.7,1037.2 836.0,1038.5 845.2,1046.9 855.3,1055.3 865.4,1058.7 878.9,1056.2 890.0,1056.7 893.6,1057.9 905.4,1059.0 913.8,1056.2 923.9,1042.7 934.0,1027.6 939.0,1020.8 949.1,1016.9 959.2,1017.8 969.3,1021.7 979.4,1025.9 989.5,1039.0 1009.8,1039.0 1021.5,1032.3 1031.6,1029.7 1040.1,1026.2 1050.2,1030.9 1060.3,1045.2 1070.4,1060.4" fill="none" stroke="#ffc000" stroke-width="1.6" />
<polyline points="13.5,1064.1 25.3,1064.1 33.7,1061.2 43.8,1056.2 50.5,1049.4 57.2,1039.3 64.0,1028.4 74.9,1020.0 84.2,1026.7 94.3,1041.0 104.4,1049.4 114.5,1057.0 124.6,1062.9 134.7,1064.9 143.1,1066.6 185.2,1066.6 195.3,1061.2 205.4,1051.1 215.5,1039.3 225.6,1026.7 230.0,1023.3 236.8,1020.0 246.9,1017.8 253.7,1018.8 321.0,1018.8 327.8,1017.5 337.9,1020.5 348.0,1026.7 358.1,1039.3 368.2,1052.0 379.1,1063.8 388.4,1054.5 398.5,1044.4 410.3,1039.3 419.5,1025.5 428.8,1027.6 442.3,1028.1 450.0,1030.1 470.3,1030.1 480.4,1025.0 492.2,1021.7 502.3,1017.5 512.4,1014.9 524.2,1014.9 530.9,1016.3 552.8,1016.3 561.2,1022.5 571.3,1030.9 581.4,1041.0 591.5,1051.1 602.5,1057.0 613.4,1048.6 623.5,1044.4 633.6,1030.9 643.7,1018.0 650.5,1017.1 660.6,1017.8 670.0,1018.3 680.2,1017.8 694.5,1017.8 705.5,1028.4 715.6,1042.7 727.4,1054.5 737.5,1059.5 749.2,1062.9 761.0,1065.4 786.3,1065.4 796.4,1062.1 806.5,1059.9 818.3,1057.9 828.4,1056.2 836.8,1054.5 845.2,1054.8 855.3,1057.0 865.4,1059.5 877.2,1064.9 885.6,1065.9 890.0,1065.9 893.6,1065.8 903.7,1065.4 908.7,1063.8 918.8,1054.5 928.9,1040.2 939.0,1027.6 949.1,1021.7 959.2,1019.1 969.3,1016.9 979.4,1018.6 989.5,1027.6 999.7,1027.6 1009.8,1033.5 1021.5,1039.8 1030.0,1038.5 1040.1,1029.2 1050.2,1034.3 1060.3,1040.2 1070.4,1045.2" fill="none" stroke="#0099ff" stroke-width="1.6" />
</g>
<rect x="7.0" y="719.0" width="1150.0" height="1.0" fill="#000" />
<rect x="7.0" y="719.0" width="1.0" height="349.0" fill="#000" />
<rect x="1156.0" y="719.0" width="1.0" height="349.0" fill="#000" />
<rect x="24.0" y="1068.0" width="1133.0" height="3.0" fill="#d4d4d4" />
<rect x="8.0" y="1068.0" width="16.0" height="3.0" fill="#ececec" />
<rect x="985.0" y="1068.0" width="15.0" height="3.0" fill="#f4f4f4" />
</svg></body></html>
